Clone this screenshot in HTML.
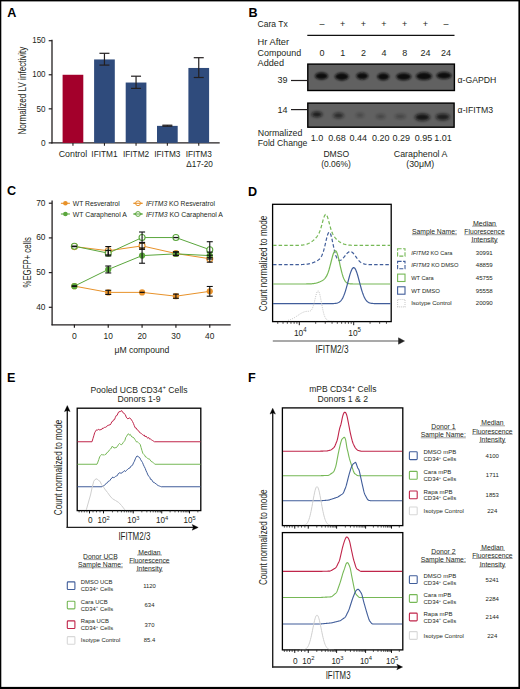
<!DOCTYPE html>
<html><head><meta charset="utf-8"><style>
html,body{margin:0;padding:0;background:#fff;}
svg{display:block;}
text{font-family:"Liberation Sans", sans-serif;}
</style></head><body>
<svg width="520" height="689" viewBox="0 0 520 689">
<rect x="0" y="0" width="520" height="689" fill="#fff"/>
<rect x="0" y="0" width="520" height="1.4" fill="#000" stroke="none" stroke-width="1" />
<rect x="0" y="0" width="1.3" height="689" fill="#000" stroke="none" stroke-width="1" />
<rect x="518.4" y="0" width="1.6" height="689" fill="#000" stroke="none" stroke-width="1" />
<rect x="0" y="686.9" width="520" height="2.1" fill="#000" stroke="none" stroke-width="1" />
<text x="7.3" y="16.8" font-size="12.6" text-anchor="start" fill="#000" font-weight="bold" >A</text>
<text x="248.6" y="16.6" font-size="12.6" text-anchor="start" fill="#000" font-weight="bold" >B</text>
<text x="7.0" y="195.4" font-size="12.6" text-anchor="start" fill="#000" font-weight="bold" >C</text>
<text x="248.0" y="195.6" font-size="12.6" text-anchor="start" fill="#000" font-weight="bold" >D</text>
<text x="7.1" y="382.1" font-size="12.6" text-anchor="start" fill="#000" font-weight="bold" >E</text>
<text x="248.0" y="382.1" font-size="12.6" text-anchor="start" fill="#000" font-weight="bold" >F</text>
<line x1="52" y1="39.8" x2="52" y2="143.5" stroke="#231f20" stroke-width="1.3" />
<line x1="51.5" y1="142.9" x2="219.7" y2="142.9" stroke="#231f20" stroke-width="1.3" />
<line x1="48.7" y1="142.9" x2="52" y2="142.9" stroke="#231f20" stroke-width="1.2" />
<text x="45.6" y="145.6" font-size="9.2" text-anchor="end" fill="#231f20" textLength="4.6" lengthAdjust="spacingAndGlyphs" >0</text>
<line x1="48.7" y1="108.83500000000001" x2="52" y2="108.83500000000001" stroke="#231f20" stroke-width="1.2" />
<text x="45.6" y="111.53500000000001" font-size="9.2" text-anchor="end" fill="#231f20" textLength="9.0" lengthAdjust="spacingAndGlyphs" >50</text>
<line x1="48.7" y1="74.77000000000001" x2="52" y2="74.77000000000001" stroke="#231f20" stroke-width="1.2" />
<text x="45.6" y="77.47000000000001" font-size="9.2" text-anchor="end" fill="#231f20" textLength="13.4" lengthAdjust="spacingAndGlyphs" >100</text>
<line x1="48.7" y1="40.705" x2="52" y2="40.705" stroke="#231f20" stroke-width="1.2" />
<text x="45.6" y="43.405" font-size="9.2" text-anchor="end" fill="#231f20" textLength="13.4" lengthAdjust="spacingAndGlyphs" >150</text>
<rect x="62.6" y="74.77000000000001" width="20.7" height="68.13" fill="#a3002b" stroke="none" stroke-width="1" />
<line x1="72.95" y1="142.9" x2="72.95" y2="145.8" stroke="#231f20" stroke-width="1.1" />
<rect x="94.1" y="59.44075000000001" width="20.7" height="83.45925" fill="#2f4b7c" stroke="none" stroke-width="1" />
<line x1="104.44999999999999" y1="142.9" x2="104.44999999999999" y2="145.8" stroke="#231f20" stroke-width="1.1" />
<line x1="104.44999999999999" y1="53.3" x2="104.44999999999999" y2="65.1" stroke="#231f20" stroke-width="1.2" />
<line x1="99.44999999999999" y1="53.3" x2="109.44999999999999" y2="53.3" stroke="#231f20" stroke-width="1.2" />
<line x1="99.44999999999999" y1="65.1" x2="109.44999999999999" y2="65.1" stroke="#231f20" stroke-width="1.2" />
<rect x="125.7" y="82.53682" width="20.7" height="60.36318" fill="#2f4b7c" stroke="none" stroke-width="1" />
<line x1="136.05" y1="142.9" x2="136.05" y2="145.8" stroke="#231f20" stroke-width="1.1" />
<line x1="136.05" y1="76.2" x2="136.05" y2="88.4" stroke="#231f20" stroke-width="1.2" />
<line x1="131.05" y1="76.2" x2="141.05" y2="76.2" stroke="#231f20" stroke-width="1.2" />
<line x1="131.05" y1="88.4" x2="141.05" y2="88.4" stroke="#231f20" stroke-width="1.2" />
<rect x="157" y="125.8675" width="20.7" height="17.0325" fill="#2f4b7c" stroke="none" stroke-width="1" />
<line x1="167.35" y1="142.9" x2="167.35" y2="145.8" stroke="#231f20" stroke-width="1.1" />
<line x1="167.35" y1="125.2" x2="167.35" y2="126.2" stroke="#231f20" stroke-width="1.2" />
<line x1="162.35" y1="125.2" x2="172.35" y2="125.2" stroke="#231f20" stroke-width="1.2" />
<line x1="162.35" y1="126.2" x2="172.35" y2="126.2" stroke="#231f20" stroke-width="1.2" />
<rect x="188.4" y="67.95700000000001" width="20.7" height="74.943" fill="#2f4b7c" stroke="none" stroke-width="1" />
<line x1="198.75" y1="142.9" x2="198.75" y2="145.8" stroke="#231f20" stroke-width="1.1" />
<line x1="198.75" y1="57.7" x2="198.75" y2="77.5" stroke="#231f20" stroke-width="1.2" />
<line x1="193.75" y1="57.7" x2="203.75" y2="57.7" stroke="#231f20" stroke-width="1.2" />
<line x1="193.75" y1="77.5" x2="203.75" y2="77.5" stroke="#231f20" stroke-width="1.2" />
<text x="72.95" y="156.6" font-size="9" text-anchor="middle" fill="#231f20" textLength="28.5" lengthAdjust="spacingAndGlyphs" >Control</text>
<text x="104.44999999999999" y="156.6" font-size="9" text-anchor="middle" fill="#231f20" textLength="26.2" lengthAdjust="spacingAndGlyphs" >IFITM1</text>
<text x="136.05" y="156.6" font-size="9" text-anchor="middle" fill="#231f20" textLength="26.2" lengthAdjust="spacingAndGlyphs" >IFITM2</text>
<text x="167.35" y="156.6" font-size="9" text-anchor="middle" fill="#231f20" textLength="26.2" lengthAdjust="spacingAndGlyphs" >IFITM3</text>
<text x="198.75" y="156.6" font-size="9" text-anchor="middle" fill="#231f20" textLength="26.2" lengthAdjust="spacingAndGlyphs" >IFITM3</text>
<text x="199.6" y="166.5" font-size="9" text-anchor="middle" fill="#231f20" textLength="26.5" lengthAdjust="spacingAndGlyphs" >Δ17-20</text>
<text transform="translate(26.0,90.6) rotate(-90)" font-size="10.4" text-anchor="middle" fill="#231f20" textLength="88" lengthAdjust="spacingAndGlyphs">Normalized LV infectivity</text>
<text x="257.6" y="26.9" font-size="8.8" text-anchor="start" fill="#231f20" textLength="30.2" lengthAdjust="spacingAndGlyphs" >Cara Tx</text>
<text x="322" y="27.2" font-size="9" text-anchor="middle" fill="#231f20" >–</text>
<text x="342.7" y="27.2" font-size="9" text-anchor="middle" fill="#231f20" >+</text>
<text x="363.4" y="27.2" font-size="9" text-anchor="middle" fill="#231f20" >+</text>
<text x="384" y="27.2" font-size="9" text-anchor="middle" fill="#231f20" >+</text>
<text x="404.7" y="27.2" font-size="9" text-anchor="middle" fill="#231f20" >+</text>
<text x="425.4" y="27.2" font-size="9" text-anchor="middle" fill="#231f20" >+</text>
<text x="446" y="27.2" font-size="9" text-anchor="middle" fill="#231f20" >–</text>
<line x1="307.3" y1="35.3" x2="454.5" y2="35.3" stroke="#111" stroke-width="1.3" />
<text x="257.6" y="45.3" font-size="8.8" text-anchor="start" fill="#231f20" textLength="31.5" lengthAdjust="spacingAndGlyphs" >Hr After</text>
<text x="257.6" y="55.6" font-size="8.8" text-anchor="start" fill="#231f20" textLength="43.6" lengthAdjust="spacingAndGlyphs" >Compound</text>
<text x="257.6" y="65.6" font-size="8.8" text-anchor="start" fill="#231f20" textLength="26.4" lengthAdjust="spacingAndGlyphs" >Added</text>
<text x="322" y="55.7" font-size="9" text-anchor="middle" fill="#231f20" >0</text>
<text x="342.7" y="55.7" font-size="9" text-anchor="middle" fill="#231f20" >1</text>
<text x="363.4" y="55.7" font-size="9" text-anchor="middle" fill="#231f20" >2</text>
<text x="384" y="55.7" font-size="9" text-anchor="middle" fill="#231f20" >4</text>
<text x="404.7" y="55.7" font-size="9" text-anchor="middle" fill="#231f20" >8</text>
<text x="425.4" y="55.7" font-size="9" text-anchor="middle" fill="#231f20" >24</text>
<text x="446" y="55.7" font-size="9" text-anchor="middle" fill="#231f20" >24</text>
<defs><filter id="blur1" x="-50%" y="-50%" width="200%" height="200%"><feGaussianBlur stdDeviation="1.1"/></filter><filter id="blur2" x="-50%" y="-50%" width="200%" height="200%"><feGaussianBlur stdDeviation="1.6"/></filter></defs>
<rect x="307.8" y="64.1" width="146.6" height="26.4" fill="#616161" stroke="#000" stroke-width="1.4" />
<ellipse cx="321.5" cy="76" rx="6.5" ry="3.6" fill="#111" opacity="1" filter="url(#blur1)"/>
<ellipse cx="341.8" cy="76.6" rx="7.0" ry="3.8" fill="#111" opacity="1" filter="url(#blur1)"/>
<ellipse cx="362.3" cy="76" rx="6.0" ry="3.4" fill="#111" opacity="1" filter="url(#blur1)"/>
<ellipse cx="383.3" cy="76.6" rx="6.0" ry="3.6" fill="#111" opacity="1" filter="url(#blur1)"/>
<ellipse cx="403.7" cy="76.6" rx="7.5" ry="3.6" fill="#111" opacity="1" filter="url(#blur1)"/>
<ellipse cx="424" cy="76.2" rx="8.0" ry="3.9" fill="#111" opacity="1" filter="url(#blur1)"/>
<ellipse cx="444" cy="75.5" rx="7.5" ry="3.6" fill="#111" opacity="1" filter="url(#blur1)"/>
<rect x="307.8" y="103.1" width="146.3" height="24.1" fill="#616161" stroke="#000" stroke-width="1.4" />
<ellipse cx="316.9" cy="114.4" rx="5.5" ry="2.75" fill="#111" opacity="0.85" filter="url(#blur2)"/>
<ellipse cx="338.5" cy="115.6" rx="5.5" ry="2.75" fill="#111" opacity="0.65" filter="url(#blur2)"/>
<ellipse cx="360" cy="115.2" rx="4.0" ry="2.25" fill="#111" opacity="0.3" filter="url(#blur2)"/>
<ellipse cx="380.7" cy="116.4" rx="4.5" ry="2.25" fill="#111" opacity="0.35" filter="url(#blur2)"/>
<ellipse cx="400.3" cy="116.4" rx="5.5" ry="2.25" fill="#111" opacity="0.35" filter="url(#blur2)"/>
<ellipse cx="422.4" cy="117.2" rx="7.5" ry="3.5" fill="#111" opacity="0.9" filter="url(#blur2)"/>
<ellipse cx="442.8" cy="116.9" rx="7.0" ry="3.25" fill="#111" opacity="0.8" filter="url(#blur2)"/>
<line x1="291" y1="80.5" x2="307.5" y2="80.5" stroke="#231f20" stroke-width="1.2" />
<line x1="291" y1="109.6" x2="307.5" y2="109.6" stroke="#231f20" stroke-width="1.2" />
<text x="287.5" y="83.2" font-size="9" text-anchor="end" fill="#231f20" >39</text>
<text x="287.5" y="112.5" font-size="9" text-anchor="end" fill="#231f20" >14</text>
<text x="457.6" y="83.3" font-size="8.8" text-anchor="start" fill="#231f20" textLength="38.8" lengthAdjust="spacingAndGlyphs" >α-GAPDH</text>
<text x="457.6" y="112.7" font-size="8.8" text-anchor="start" fill="#231f20" textLength="35.6" lengthAdjust="spacingAndGlyphs" >α-IFITM3</text>
<text x="257.8" y="135.8" font-size="8.8" text-anchor="start" fill="#231f20" textLength="44.6" lengthAdjust="spacingAndGlyphs" >Normalized</text>
<text x="257.8" y="145.8" font-size="8.8" text-anchor="start" fill="#231f20" textLength="49.6" lengthAdjust="spacingAndGlyphs" >Fold Change</text>
<text x="316.9" y="140.8" font-size="9" text-anchor="middle" fill="#231f20" >1.0</text>
<text x="337" y="140.8" font-size="9" text-anchor="middle" fill="#231f20" >0.68</text>
<text x="358.2" y="140.8" font-size="9" text-anchor="middle" fill="#231f20" >0.44</text>
<text x="380.7" y="140.8" font-size="9" text-anchor="middle" fill="#231f20" >0.20</text>
<text x="401.2" y="140.8" font-size="9" text-anchor="middle" fill="#231f20" >0.29</text>
<text x="423.4" y="140.8" font-size="9" text-anchor="middle" fill="#231f20" >0.95</text>
<text x="443" y="140.8" font-size="9" text-anchor="middle" fill="#231f20" >1.01</text>
<text x="336.3" y="156.6" font-size="8.8" text-anchor="middle" fill="#231f20" textLength="25.8" lengthAdjust="spacingAndGlyphs" >DMSO</text>
<text x="336" y="166.5" font-size="8.8" text-anchor="middle" fill="#231f20" textLength="29.6" lengthAdjust="spacingAndGlyphs" >(0.06%)</text>
<text x="420.6" y="156.6" font-size="8.8" text-anchor="middle" fill="#231f20" textLength="53.6" lengthAdjust="spacingAndGlyphs" >Caraphenol A</text>
<text x="420.3" y="166.5" font-size="8.8" text-anchor="middle" fill="#231f20" textLength="28" lengthAdjust="spacingAndGlyphs" >(30μM)</text>
<line x1="52.1" y1="200.5" x2="52.1" y2="325.2" stroke="#231f20" stroke-width="1.3" />
<line x1="51.5" y1="324.9" x2="230.7" y2="324.9" stroke="#231f20" stroke-width="1.3" />
<line x1="48.8" y1="307.3" x2="52.1" y2="307.3" stroke="#231f20" stroke-width="1.2" />
<text x="45.5" y="309.8" font-size="9.8" text-anchor="end" fill="#231f20" textLength="9.3" lengthAdjust="spacingAndGlyphs" >40</text>
<line x1="48.8" y1="272.6" x2="52.1" y2="272.6" stroke="#231f20" stroke-width="1.2" />
<text x="45.5" y="275.1" font-size="9.8" text-anchor="end" fill="#231f20" textLength="9.3" lengthAdjust="spacingAndGlyphs" >50</text>
<line x1="48.8" y1="237.9" x2="52.1" y2="237.9" stroke="#231f20" stroke-width="1.2" />
<text x="45.5" y="240.4" font-size="9.8" text-anchor="end" fill="#231f20" textLength="9.3" lengthAdjust="spacingAndGlyphs" >60</text>
<line x1="48.8" y1="203.2" x2="52.1" y2="203.2" stroke="#231f20" stroke-width="1.2" />
<text x="45.5" y="205.7" font-size="9.8" text-anchor="end" fill="#231f20" textLength="9.3" lengthAdjust="spacingAndGlyphs" >70</text>
<line x1="74.4" y1="324.6" x2="74.4" y2="327.8" stroke="#231f20" stroke-width="1.2" />
<text x="74.4" y="338.7" font-size="9.8" text-anchor="middle" fill="#231f20" textLength="4.8" lengthAdjust="spacingAndGlyphs" >0</text>
<line x1="108.24000000000001" y1="324.6" x2="108.24000000000001" y2="327.8" stroke="#231f20" stroke-width="1.2" />
<text x="108.24000000000001" y="338.7" font-size="9.8" text-anchor="middle" fill="#231f20" textLength="9.3" lengthAdjust="spacingAndGlyphs" >10</text>
<line x1="142.07999999999998" y1="324.6" x2="142.07999999999998" y2="327.8" stroke="#231f20" stroke-width="1.2" />
<text x="142.07999999999998" y="338.7" font-size="9.8" text-anchor="middle" fill="#231f20" textLength="9.3" lengthAdjust="spacingAndGlyphs" >20</text>
<line x1="175.92000000000002" y1="324.6" x2="175.92000000000002" y2="327.8" stroke="#231f20" stroke-width="1.2" />
<text x="175.92000000000002" y="338.7" font-size="9.8" text-anchor="middle" fill="#231f20" textLength="9.3" lengthAdjust="spacingAndGlyphs" >30</text>
<line x1="209.76" y1="324.6" x2="209.76" y2="327.8" stroke="#231f20" stroke-width="1.2" />
<text x="209.76" y="338.7" font-size="9.8" text-anchor="middle" fill="#231f20" textLength="9.3" lengthAdjust="spacingAndGlyphs" >40</text>
<text x="141.9" y="353.2" font-size="9.8" text-anchor="middle" fill="#231f20" textLength="55" lengthAdjust="spacingAndGlyphs" >μM compound</text>
<text transform="translate(30.8,262.3) rotate(-90)" font-size="10.2" text-anchor="middle" fill="#231f20" textLength="50.5" lengthAdjust="spacingAndGlyphs">%EGFP+ cells</text>
<path d="M74.40,286.13 L108.24,292.38 L142.08,292.38 L175.92,296.20 L209.76,291.34" stroke="#e8922a" stroke-width="1.0" fill="none" stroke-linejoin="round" />
<path d="M74.40,246.58 L108.24,250.74 L142.08,245.88 L175.92,253.52 L209.76,258.72" stroke="#e8922a" stroke-width="1.0" fill="none" stroke-linejoin="round" />
<path d="M74.40,286.13 L108.24,269.48 L142.08,255.60 L175.92,253.86 L209.76,255.60" stroke="#5aa63c" stroke-width="1.0" fill="none" stroke-linejoin="round" />
<path d="M74.40,246.23 L108.24,253.17 L142.08,237.55 L175.92,237.55 L209.76,249.70" stroke="#5aa63c" stroke-width="1.0" fill="none" stroke-linejoin="round" />
<circle cx="74.4" cy="286.133" r="3.1" fill="#e8922a"/>
<circle cx="108.24000000000001" cy="292.379" r="3.1" fill="#e8922a"/>
<circle cx="142.07999999999998" cy="292.379" r="3.1" fill="#e8922a"/>
<circle cx="175.92000000000002" cy="296.196" r="3.1" fill="#e8922a"/>
<circle cx="209.76" cy="291.338" r="3.1" fill="#e8922a"/>
<circle cx="74.4" cy="246.57500000000002" r="3.0" fill="#fff" fill-opacity="0.85" stroke="#e8922a" stroke-width="1.1"/>
<circle cx="108.24000000000001" cy="250.73900000000003" r="3.0" fill="#fff" fill-opacity="0.85" stroke="#e8922a" stroke-width="1.1"/>
<circle cx="142.07999999999998" cy="245.881" r="3.0" fill="#fff" fill-opacity="0.85" stroke="#e8922a" stroke-width="1.1"/>
<circle cx="175.92000000000002" cy="253.51500000000001" r="3.0" fill="#fff" fill-opacity="0.85" stroke="#e8922a" stroke-width="1.1"/>
<circle cx="209.76" cy="258.72" r="3.0" fill="#fff" fill-opacity="0.85" stroke="#e8922a" stroke-width="1.1"/>
<circle cx="74.4" cy="286.133" r="3.1" fill="#5aa63c"/>
<circle cx="108.24000000000001" cy="269.47700000000003" r="3.1" fill="#5aa63c"/>
<circle cx="142.07999999999998" cy="255.597" r="3.1" fill="#5aa63c"/>
<circle cx="175.92000000000002" cy="253.86200000000002" r="3.1" fill="#5aa63c"/>
<circle cx="209.76" cy="255.597" r="3.1" fill="#5aa63c"/>
<circle cx="74.4" cy="246.228" r="3.0" fill="#fff" fill-opacity="0.85" stroke="#5aa63c" stroke-width="1.1"/>
<circle cx="108.24000000000001" cy="253.168" r="3.0" fill="#fff" fill-opacity="0.85" stroke="#5aa63c" stroke-width="1.1"/>
<circle cx="142.07999999999998" cy="237.553" r="3.0" fill="#fff" fill-opacity="0.85" stroke="#5aa63c" stroke-width="1.1"/>
<circle cx="175.92000000000002" cy="237.553" r="3.0" fill="#fff" fill-opacity="0.85" stroke="#5aa63c" stroke-width="1.1"/>
<circle cx="209.76" cy="249.698" r="3.0" fill="#fff" fill-opacity="0.85" stroke="#5aa63c" stroke-width="1.1"/>
<line x1="71.80000000000001" y1="286.133" x2="77.0" y2="286.133" stroke="#111" stroke-width="1.3" />
<line x1="108.24000000000001" y1="290.297" x2="108.24000000000001" y2="294.461" stroke="#111" stroke-width="1.1" />
<line x1="105.24000000000001" y1="290.297" x2="111.24000000000001" y2="290.297" stroke="#111" stroke-width="1.1" />
<line x1="105.24000000000001" y1="294.461" x2="111.24000000000001" y2="294.461" stroke="#111" stroke-width="1.1" />
<line x1="139.48" y1="292.379" x2="144.67999999999998" y2="292.379" stroke="#111" stroke-width="1.3" />
<line x1="175.92000000000002" y1="294.114" x2="175.92000000000002" y2="298.278" stroke="#111" stroke-width="1.1" />
<line x1="172.92000000000002" y1="294.114" x2="178.92000000000002" y2="294.114" stroke="#111" stroke-width="1.1" />
<line x1="172.92000000000002" y1="298.278" x2="178.92000000000002" y2="298.278" stroke="#111" stroke-width="1.1" />
<line x1="209.76" y1="286.48" x2="209.76" y2="296.196" stroke="#111" stroke-width="1.1" />
<line x1="206.76" y1="286.48" x2="212.76" y2="286.48" stroke="#111" stroke-width="1.1" />
<line x1="206.76" y1="296.196" x2="212.76" y2="296.196" stroke="#111" stroke-width="1.1" />
<line x1="71.80000000000001" y1="246.57500000000002" x2="77.0" y2="246.57500000000002" stroke="#111" stroke-width="1.3" />
<line x1="108.24000000000001" y1="246.57500000000002" x2="108.24000000000001" y2="254.90300000000002" stroke="#111" stroke-width="1.1" />
<line x1="105.24000000000001" y1="246.57500000000002" x2="111.24000000000001" y2="246.57500000000002" stroke="#111" stroke-width="1.1" />
<line x1="105.24000000000001" y1="254.90300000000002" x2="111.24000000000001" y2="254.90300000000002" stroke="#111" stroke-width="1.1" />
<line x1="142.07999999999998" y1="242.411" x2="142.07999999999998" y2="249.351" stroke="#111" stroke-width="1.1" />
<line x1="139.07999999999998" y1="242.411" x2="145.07999999999998" y2="242.411" stroke="#111" stroke-width="1.1" />
<line x1="139.07999999999998" y1="249.351" x2="145.07999999999998" y2="249.351" stroke="#111" stroke-width="1.1" />
<line x1="175.92000000000002" y1="251.78" x2="175.92000000000002" y2="255.25" stroke="#111" stroke-width="1.1" />
<line x1="172.92000000000002" y1="251.78" x2="178.92000000000002" y2="251.78" stroke="#111" stroke-width="1.1" />
<line x1="172.92000000000002" y1="255.25" x2="178.92000000000002" y2="255.25" stroke="#111" stroke-width="1.1" />
<line x1="209.76" y1="255.25" x2="209.76" y2="262.19" stroke="#111" stroke-width="1.1" />
<line x1="206.76" y1="255.25" x2="212.76" y2="255.25" stroke="#111" stroke-width="1.1" />
<line x1="206.76" y1="262.19" x2="212.76" y2="262.19" stroke="#111" stroke-width="1.1" />
<line x1="71.80000000000001" y1="286.133" x2="77.0" y2="286.133" stroke="#111" stroke-width="1.3" />
<line x1="108.24000000000001" y1="266.007" x2="108.24000000000001" y2="272.947" stroke="#111" stroke-width="1.1" />
<line x1="105.24000000000001" y1="266.007" x2="111.24000000000001" y2="266.007" stroke="#111" stroke-width="1.1" />
<line x1="105.24000000000001" y1="272.947" x2="111.24000000000001" y2="272.947" stroke="#111" stroke-width="1.1" />
<line x1="142.07999999999998" y1="247.963" x2="142.07999999999998" y2="263.231" stroke="#111" stroke-width="1.1" />
<line x1="139.07999999999998" y1="247.963" x2="145.07999999999998" y2="247.963" stroke="#111" stroke-width="1.1" />
<line x1="139.07999999999998" y1="263.231" x2="145.07999999999998" y2="263.231" stroke="#111" stroke-width="1.1" />
<line x1="175.92000000000002" y1="252.127" x2="175.92000000000002" y2="255.597" stroke="#111" stroke-width="1.1" />
<line x1="172.92000000000002" y1="252.127" x2="178.92000000000002" y2="252.127" stroke="#111" stroke-width="1.1" />
<line x1="172.92000000000002" y1="255.597" x2="178.92000000000002" y2="255.597" stroke="#111" stroke-width="1.1" />
<line x1="209.76" y1="252.127" x2="209.76" y2="259.067" stroke="#111" stroke-width="1.1" />
<line x1="206.76" y1="252.127" x2="212.76" y2="252.127" stroke="#111" stroke-width="1.1" />
<line x1="206.76" y1="259.067" x2="212.76" y2="259.067" stroke="#111" stroke-width="1.1" />
<line x1="71.80000000000001" y1="246.228" x2="77.0" y2="246.228" stroke="#111" stroke-width="1.3" />
<line x1="108.24000000000001" y1="250.392" x2="108.24000000000001" y2="255.944" stroke="#111" stroke-width="1.1" />
<line x1="105.24000000000001" y1="250.392" x2="111.24000000000001" y2="250.392" stroke="#111" stroke-width="1.1" />
<line x1="105.24000000000001" y1="255.944" x2="111.24000000000001" y2="255.944" stroke="#111" stroke-width="1.1" />
<line x1="142.07999999999998" y1="232.00099999999998" x2="142.07999999999998" y2="243.10500000000002" stroke="#111" stroke-width="1.1" />
<line x1="139.07999999999998" y1="232.00099999999998" x2="145.07999999999998" y2="232.00099999999998" stroke="#111" stroke-width="1.1" />
<line x1="139.07999999999998" y1="243.10500000000002" x2="145.07999999999998" y2="243.10500000000002" stroke="#111" stroke-width="1.1" />
<line x1="173.32000000000002" y1="237.553" x2="178.52" y2="237.553" stroke="#111" stroke-width="1.3" />
<line x1="209.76" y1="241.717" x2="209.76" y2="257.679" stroke="#111" stroke-width="1.1" />
<line x1="206.76" y1="241.717" x2="212.76" y2="241.717" stroke="#111" stroke-width="1.1" />
<line x1="206.76" y1="257.679" x2="212.76" y2="257.679" stroke="#111" stroke-width="1.1" />
<line x1="60.900000000000006" y1="203.3" x2="69.9" y2="203.3" stroke="#e8922a" stroke-width="1.1" />
<circle cx="65.4" cy="203.3" r="2.3" fill="#e8922a"/>
<text x="72.8" y="206.2" font-size="8" text-anchor="start" fill="#231f20" textLength="47" lengthAdjust="spacingAndGlyphs" >WT Resveratrol</text>
<line x1="60.900000000000006" y1="214" x2="69.9" y2="214" stroke="#5aa63c" stroke-width="1.1" />
<circle cx="65.4" cy="214" r="2.3" fill="#5aa63c"/>
<text x="72.8" y="216.9" font-size="8" text-anchor="start" fill="#231f20" textLength="54" lengthAdjust="spacingAndGlyphs" >WT Caraphenol A</text>
<line x1="133.5" y1="203.3" x2="142.5" y2="203.3" stroke="#e8922a" stroke-width="1.1" />
<circle cx="138" cy="203.3" r="2.4" fill="white" stroke="#e8922a" stroke-width="1"/>
<line x1="133.5" y1="203.3" x2="142.5" y2="203.3" stroke="#e8922a" stroke-width="1.0" />
<text x="145.9" y="206.2" font-size="8" fill="#231f20" textLength="69" lengthAdjust="spacingAndGlyphs"><tspan font-style="italic">IFITM3</tspan> KO Resveratrol</text>
<line x1="133.5" y1="214" x2="142.5" y2="214" stroke="#5aa63c" stroke-width="1.1" />
<circle cx="138" cy="214" r="2.4" fill="white" stroke="#5aa63c" stroke-width="1"/>
<line x1="133.5" y1="214" x2="142.5" y2="214" stroke="#5aa63c" stroke-width="1.0" />
<text x="145.9" y="216.9" font-size="8" fill="#231f20" textLength="77" lengthAdjust="spacingAndGlyphs"><tspan font-style="italic">IFITM3</tspan> KO Caraphenol A</text>
<rect x="272.6" y="204.3" width="118.6" height="117.3" fill="none" stroke="#000" stroke-width="1.3" />
<clipPath id="clipD"><rect x="273" y="204.8" width="117.6" height="116.2"/></clipPath>
<g clip-path="url(#clipD)">
<path d="M273.00,245.40 L273.50,245.40 L274.00,245.40 L274.50,245.40 L275.00,245.40 L275.50,245.40 L276.00,245.40 L276.50,245.40 L277.00,245.40 L277.50,245.40 L278.00,245.40 L278.50,245.40 L279.00,245.40 L279.50,245.40 L280.00,245.40 L280.50,245.40 L281.00,245.40 L281.50,245.40 L282.00,245.40 L282.50,245.40 L283.00,245.40 L283.50,245.40 L284.00,245.40 L284.50,245.40 L285.00,245.40 L285.50,245.40 L286.00,245.40 L286.50,245.40 L287.00,245.40 L287.50,245.40 L288.00,245.40 L288.50,245.40 L289.00,245.40 L289.50,245.40 L290.00,245.40 L290.50,245.40 L291.00,245.40 L291.50,245.40 L292.00,245.39 L292.50,245.39 L293.00,245.39 L293.50,245.39 L294.00,245.39 L294.50,245.38 L295.00,245.38 L295.50,245.37 L296.00,245.37 L296.50,245.36 L297.00,245.35 L297.50,245.34 L298.00,245.33 L298.50,245.31 L299.00,245.29 L299.50,245.27 L300.00,245.24 L300.50,245.21 L301.00,245.18 L301.50,245.14 L302.00,245.09 L302.50,245.04 L303.00,244.98 L303.50,244.91 L304.00,244.83 L304.50,244.74 L305.00,244.64 L305.50,244.52 L306.00,244.39 L306.50,244.25 L307.00,244.09 L307.50,243.91 L308.00,243.72 L308.50,243.51 L309.00,243.27 L309.50,243.02 L310.00,242.74 L310.50,242.45 L311.00,242.13 L311.50,241.79 L312.00,241.43 L312.50,241.05 L313.00,240.65 L313.50,240.22 L314.00,239.78 L314.50,239.31 L315.00,238.81 L315.50,238.30 L316.00,237.75 L316.50,237.16 L317.00,236.52 L317.50,235.82 L318.00,235.04 L318.50,234.17 L319.00,233.17 L319.50,232.04 L320.00,230.76 L320.50,229.31 L321.00,227.71 L321.50,225.98 L322.00,224.14 L322.50,222.26 L323.00,220.40 L323.50,218.65 L324.00,217.10 L324.50,215.84 L325.00,214.95 L325.50,214.47 L326.00,214.46 L326.50,214.90 L327.00,215.77 L327.50,217.02 L328.00,218.57 L328.50,220.34 L329.00,222.23 L329.50,224.15 L330.00,226.05 L330.50,227.84 L331.00,229.50 L331.50,231.01 L332.00,232.35 L332.50,233.53 L333.00,234.56 L333.50,235.47 L334.00,236.27 L334.50,236.99 L335.00,237.63 L335.50,238.22 L336.00,238.77 L336.50,239.28 L337.00,239.76 L337.50,240.21 L338.00,240.64 L338.50,241.05 L339.00,241.43 L339.50,241.79 L340.00,242.13 L340.50,242.45 L341.00,242.74 L341.50,243.02 L342.00,243.27 L342.50,243.51 L343.00,243.72 L343.50,243.91 L344.00,244.09 L344.50,244.25 L345.00,244.39 L345.50,244.52 L346.00,244.64 L346.50,244.74 L347.00,244.83 L347.50,244.91 L348.00,244.98 L348.50,245.04 L349.00,245.09 L349.50,245.14 L350.00,245.18 L350.50,245.21 L351.00,245.24 L351.50,245.27 L352.00,245.29 L352.50,245.31 L353.00,245.33 L353.50,245.34 L354.00,245.35 L354.50,245.36 L355.00,245.37 L355.50,245.37 L356.00,245.38 L356.50,245.38 L357.00,245.39 L357.50,245.39 L358.00,245.39 L358.50,245.39 L359.00,245.39 L359.50,245.40 L360.00,245.40 L360.50,245.40 L361.00,245.40 L361.50,245.40 L362.00,245.40 L362.50,245.40 L363.00,245.40 L363.50,245.40 L364.00,245.40 L364.50,245.40 L365.00,245.40 L365.50,245.40 L366.00,245.40 L366.50,245.40 L367.00,245.40 L367.50,245.40 L368.00,245.40 L368.50,245.40 L369.00,245.40 L369.50,245.40 L370.00,245.40 L370.50,245.40 L371.00,245.40 L371.50,245.40 L372.00,245.40 L372.50,245.40 L373.00,245.40 L373.50,245.40 L374.00,245.40 L374.50,245.40 L375.00,245.40 L375.50,245.40 L376.00,245.40 L376.50,245.40 L377.00,245.40 L377.50,245.40 L378.00,245.40 L378.50,245.40 L379.00,245.40 L379.50,245.40 L380.00,245.40 L380.50,245.40 L381.00,245.40 L381.50,245.40 L382.00,245.40 L382.50,245.40 L383.00,245.40 L383.50,245.40 L384.00,245.40 L384.50,245.40 L385.00,245.40 L385.50,245.40 L386.00,245.40 L386.50,245.40 L387.00,245.40 L387.50,245.40 L388.00,245.40 L388.50,245.40 L389.00,245.40 L389.50,245.40 L390.00,245.40 L390.50,245.40 L391.00,245.40" stroke="#76b856" stroke-width="1.2" fill="none" stroke-linejoin="round" stroke-dasharray="3.5,2.1"/>
<path d="M273.00,264.60 L273.50,264.60 L274.00,264.60 L274.50,264.60 L275.00,264.60 L275.50,264.60 L276.00,264.60 L276.50,264.60 L277.00,264.60 L277.50,264.60 L278.00,264.60 L278.50,264.60 L279.00,264.60 L279.50,264.60 L280.00,264.60 L280.50,264.60 L281.00,264.60 L281.50,264.60 L282.00,264.60 L282.50,264.60 L283.00,264.60 L283.50,264.60 L284.00,264.60 L284.50,264.60 L285.00,264.60 L285.50,264.60 L286.00,264.60 L286.50,264.60 L287.00,264.60 L287.50,264.60 L288.00,264.60 L288.50,264.60 L289.00,264.60 L289.50,264.60 L290.00,264.60 L290.50,264.60 L291.00,264.60 L291.50,264.60 L292.00,264.60 L292.50,264.60 L293.00,264.60 L293.50,264.60 L294.00,264.60 L294.50,264.60 L295.00,264.60 L295.50,264.60 L296.00,264.59 L296.50,264.59 L297.00,264.59 L297.50,264.59 L298.00,264.58 L298.50,264.58 L299.00,264.58 L299.50,264.57 L300.00,264.56 L300.50,264.56 L301.00,264.55 L301.50,264.54 L302.00,264.52 L302.50,264.51 L303.00,264.49 L303.50,264.47 L304.00,264.44 L304.50,264.41 L305.00,264.38 L305.50,264.34 L306.00,264.29 L306.50,264.24 L307.00,264.18 L307.50,264.12 L308.00,264.04 L308.50,263.96 L309.00,263.87 L309.50,263.77 L310.00,263.65 L310.50,263.53 L311.00,263.39 L311.50,263.25 L312.00,263.09 L312.50,262.91 L313.00,262.73 L313.50,262.53 L314.00,262.32 L314.50,262.10 L315.00,261.87 L315.50,261.63 L316.00,261.37 L316.50,261.10 L317.00,260.81 L317.50,260.51 L318.00,260.18 L318.50,259.82 L319.00,259.43 L319.50,258.98 L320.00,258.46 L320.50,257.85 L321.00,257.13 L321.50,256.28 L322.00,255.28 L322.50,254.10 L323.00,252.72 L323.50,251.15 L324.00,249.37 L324.50,247.43 L325.00,245.33 L325.50,243.15 L326.00,240.95 L326.50,238.82 L327.00,236.83 L327.50,235.10 L328.00,233.70 L328.50,232.73 L329.00,232.23 L329.50,232.24 L330.00,232.76 L330.50,233.79 L331.00,235.25 L331.50,237.09 L332.00,239.22 L332.50,241.54 L333.00,243.95 L333.50,246.35 L334.00,248.67 L334.50,250.84 L335.00,252.82 L335.50,254.56 L336.00,256.05 L336.50,257.30 L337.00,258.31 L337.50,259.09 L338.00,259.66 L338.50,260.06 L339.00,260.29 L339.50,260.38 L340.00,260.35 L340.50,260.21 L341.00,259.97 L341.50,259.66 L342.00,259.26 L342.50,258.80 L343.00,258.29 L343.50,257.73 L344.00,257.13 L344.50,256.51 L345.00,255.87 L345.50,255.24 L346.00,254.61 L346.50,254.01 L347.00,253.45 L347.50,252.94 L348.00,252.49 L348.50,252.12 L349.00,251.83 L349.50,251.64 L350.00,251.54 L350.50,251.54 L351.00,251.65 L351.50,251.85 L352.00,252.15 L352.50,252.54 L353.00,253.00 L353.50,253.54 L354.00,254.13 L354.50,254.77 L355.00,255.45 L355.50,256.15 L356.00,256.85 L356.50,257.55 L357.00,258.24 L357.50,258.91 L358.00,259.55 L358.50,260.15 L359.00,260.71 L359.50,261.23 L360.00,261.70 L360.50,262.12 L361.00,262.50 L361.50,262.84 L362.00,263.13 L362.50,263.39 L363.00,263.61 L363.50,263.79 L364.00,263.95 L364.50,264.08 L365.00,264.19 L365.50,264.27 L366.00,264.34 L366.50,264.40 L367.00,264.45 L367.50,264.48 L368.00,264.51 L368.50,264.53 L369.00,264.55 L369.50,264.56 L370.00,264.57 L370.50,264.58 L371.00,264.59 L371.50,264.59 L372.00,264.59 L372.50,264.59 L373.00,264.60 L373.50,264.60 L374.00,264.60 L374.50,264.60 L375.00,264.60 L375.50,264.60 L376.00,264.60 L376.50,264.60 L377.00,264.60 L377.50,264.60 L378.00,264.60 L378.50,264.60 L379.00,264.60 L379.50,264.60 L380.00,264.60 L380.50,264.60 L381.00,264.60 L381.50,264.60 L382.00,264.60 L382.50,264.60 L383.00,264.60 L383.50,264.60 L384.00,264.60 L384.50,264.60 L385.00,264.60 L385.50,264.60 L386.00,264.60 L386.50,264.60 L387.00,264.60 L387.50,264.60 L388.00,264.60 L388.50,264.60 L389.00,264.60 L389.50,264.60 L390.00,264.60 L390.50,264.60 L391.00,264.60" stroke="#405d9a" stroke-width="1.2" fill="none" stroke-linejoin="round" stroke-dasharray="3.5,2.1"/>
<path d="M273.00,284.00 L273.50,284.00 L274.00,284.00 L274.50,284.00 L275.00,284.00 L275.50,284.00 L276.00,284.00 L276.50,284.00 L277.00,284.00 L277.50,284.00 L278.00,284.00 L278.50,284.00 L279.00,284.00 L279.50,284.00 L280.00,284.00 L280.50,284.00 L281.00,284.00 L281.50,284.00 L282.00,284.00 L282.50,284.00 L283.00,284.00 L283.50,284.00 L284.00,284.00 L284.50,284.00 L285.00,284.00 L285.50,284.00 L286.00,284.00 L286.50,284.00 L287.00,284.00 L287.50,284.00 L288.00,284.00 L288.50,284.00 L289.00,284.00 L289.50,284.00 L290.00,284.00 L290.50,284.00 L291.00,284.00 L291.50,284.00 L292.00,284.00 L292.50,284.00 L293.00,284.00 L293.50,284.00 L294.00,284.00 L294.50,284.00 L295.00,284.00 L295.50,284.00 L296.00,284.00 L296.50,284.00 L297.00,284.00 L297.50,284.00 L298.00,284.00 L298.50,284.00 L299.00,284.00 L299.50,284.00 L300.00,284.00 L300.50,284.00 L301.00,284.00 L301.50,284.00 L302.00,284.00 L302.50,284.00 L303.00,283.99 L303.50,283.99 L304.00,283.99 L304.50,283.99 L305.00,283.99 L305.50,283.98 L306.00,283.98 L306.50,283.97 L307.00,283.96 L307.50,283.96 L308.00,283.94 L308.50,283.93 L309.00,283.92 L309.50,283.90 L310.00,283.87 L310.50,283.85 L311.00,283.82 L311.50,283.78 L312.00,283.74 L312.50,283.69 L313.00,283.63 L313.50,283.57 L314.00,283.50 L314.50,283.41 L315.00,283.32 L315.50,283.22 L316.00,283.11 L316.50,282.98 L317.00,282.85 L317.50,282.70 L318.00,282.54 L318.50,282.37 L319.00,282.18 L319.50,281.98 L320.00,281.77 L320.50,281.54 L321.00,281.30 L321.50,281.04 L322.00,280.77 L322.50,280.46 L323.00,280.13 L323.50,279.76 L324.00,279.34 L324.50,278.86 L325.00,278.32 L325.50,277.69 L326.00,276.96 L326.50,276.11 L327.00,275.14 L327.50,274.02 L328.00,272.76 L328.50,271.34 L329.00,269.76 L329.50,268.04 L330.00,266.20 L330.50,264.27 L331.00,262.27 L331.50,260.27 L332.00,258.31 L332.50,256.45 L333.00,254.77 L333.50,253.31 L334.00,252.13 L334.50,251.29 L335.00,250.83 L335.50,250.76 L336.00,251.10 L336.50,251.83 L337.00,252.95 L337.50,254.40 L338.00,256.14 L338.50,258.11 L339.00,260.25 L339.50,262.49 L340.00,264.77 L340.50,267.03 L341.00,269.21 L341.50,271.28 L342.00,273.20 L342.50,274.94 L343.00,276.50 L343.50,277.87 L344.00,279.05 L344.50,280.05 L345.00,280.88 L345.50,281.57 L346.00,282.13 L346.50,282.57 L347.00,282.92 L347.50,283.20 L348.00,283.41 L348.50,283.56 L349.00,283.68 L349.50,283.77 L350.00,283.83 L350.50,283.88 L351.00,283.91 L351.50,283.94 L352.00,283.96 L352.50,283.97 L353.00,283.98 L353.50,283.98 L354.00,283.99 L354.50,283.99 L355.00,283.99 L355.50,284.00 L356.00,284.00 L356.50,284.00 L357.00,284.00 L357.50,284.00 L358.00,284.00 L358.50,284.00 L359.00,284.00 L359.50,284.00 L360.00,284.00 L360.50,284.00 L361.00,284.00 L361.50,284.00 L362.00,284.00 L362.50,284.00 L363.00,284.00 L363.50,284.00 L364.00,284.00 L364.50,284.00 L365.00,284.00 L365.50,284.00 L366.00,284.00 L366.50,284.00 L367.00,284.00 L367.50,284.00 L368.00,284.00 L368.50,284.00 L369.00,284.00 L369.50,284.00 L370.00,284.00 L370.50,284.00 L371.00,284.00 L371.50,284.00 L372.00,284.00 L372.50,284.00 L373.00,284.00 L373.50,284.00 L374.00,284.00 L374.50,284.00 L375.00,284.00 L375.50,284.00 L376.00,284.00 L376.50,284.00 L377.00,284.00 L377.50,284.00 L378.00,284.00 L378.50,284.00 L379.00,284.00 L379.50,284.00 L380.00,284.00 L380.50,284.00 L381.00,284.00 L381.50,284.00 L382.00,284.00 L382.50,284.00 L383.00,284.00 L383.50,284.00 L384.00,284.00 L384.50,284.00 L385.00,284.00 L385.50,284.00 L386.00,284.00 L386.50,284.00 L387.00,284.00 L387.50,284.00 L388.00,284.00 L388.50,284.00 L389.00,284.00 L389.50,284.00 L390.00,284.00 L390.50,284.00 L391.00,284.00" stroke="#76b856" stroke-width="1.2" fill="none" stroke-linejoin="round" />
<path d="M273.00,303.60 L273.50,303.60 L274.00,303.60 L274.50,303.60 L275.00,303.60 L275.50,303.60 L276.00,303.60 L276.50,303.60 L277.00,303.60 L277.50,303.60 L278.00,303.60 L278.50,303.60 L279.00,303.60 L279.50,303.60 L280.00,303.60 L280.50,303.60 L281.00,303.60 L281.50,303.60 L282.00,303.60 L282.50,303.60 L283.00,303.60 L283.50,303.60 L284.00,303.60 L284.50,303.60 L285.00,303.60 L285.50,303.60 L286.00,303.60 L286.50,303.60 L287.00,303.60 L287.50,303.60 L288.00,303.60 L288.50,303.60 L289.00,303.60 L289.50,303.60 L290.00,303.60 L290.50,303.60 L291.00,303.60 L291.50,303.60 L292.00,303.60 L292.50,303.60 L293.00,303.60 L293.50,303.60 L294.00,303.60 L294.50,303.60 L295.00,303.60 L295.50,303.60 L296.00,303.60 L296.50,303.60 L297.00,303.60 L297.50,303.60 L298.00,303.60 L298.50,303.60 L299.00,303.60 L299.50,303.60 L300.00,303.60 L300.50,303.60 L301.00,303.60 L301.50,303.60 L302.00,303.60 L302.50,303.60 L303.00,303.60 L303.50,303.60 L304.00,303.60 L304.50,303.60 L305.00,303.60 L305.50,303.60 L306.00,303.60 L306.50,303.60 L307.00,303.60 L307.50,303.60 L308.00,303.60 L308.50,303.60 L309.00,303.60 L309.50,303.60 L310.00,303.60 L310.50,303.60 L311.00,303.60 L311.50,303.60 L312.00,303.60 L312.50,303.60 L313.00,303.60 L313.50,303.60 L314.00,303.60 L314.50,303.60 L315.00,303.60 L315.50,303.60 L316.00,303.60 L316.50,303.60 L317.00,303.60 L317.50,303.60 L318.00,303.60 L318.50,303.60 L319.00,303.60 L319.50,303.60 L320.00,303.60 L320.50,303.60 L321.00,303.60 L321.50,303.60 L322.00,303.60 L322.50,303.60 L323.00,303.60 L323.50,303.60 L324.00,303.60 L324.50,303.60 L325.00,303.60 L325.50,303.60 L326.00,303.60 L326.50,303.60 L327.00,303.60 L327.50,303.60 L328.00,303.60 L328.50,303.60 L329.00,303.60 L329.50,303.60 L330.00,303.59 L330.50,303.59 L331.00,303.59 L331.50,303.58 L332.00,303.57 L332.50,303.56 L333.00,303.55 L333.50,303.53 L334.00,303.51 L334.50,303.48 L335.00,303.43 L335.50,303.38 L336.00,303.31 L336.50,303.22 L337.00,303.11 L337.50,302.97 L338.00,302.79 L338.50,302.57 L339.00,302.31 L339.50,301.98 L340.00,301.60 L340.50,301.14 L341.00,300.59 L341.50,299.96 L342.00,299.22 L342.50,298.38 L343.00,297.42 L343.50,296.34 L344.00,295.14 L344.50,293.81 L345.00,292.37 L345.50,290.81 L346.00,289.14 L346.50,287.39 L347.00,285.56 L347.50,283.68 L348.00,281.76 L348.50,279.85 L349.00,277.98 L349.50,276.16 L350.00,274.44 L350.50,272.85 L351.00,271.42 L351.50,270.18 L352.00,269.17 L352.50,268.39 L353.00,267.87 L353.50,267.62 L354.00,267.65 L354.50,267.95 L355.00,268.52 L355.50,269.35 L356.00,270.41 L356.50,271.69 L357.00,273.15 L357.50,274.77 L358.00,276.52 L358.50,278.35 L359.00,280.24 L359.50,282.15 L360.00,284.06 L360.50,285.93 L361.00,287.75 L361.50,289.49 L362.00,291.13 L362.50,292.67 L363.00,294.09 L363.50,295.39 L364.00,296.57 L364.50,297.62 L365.00,298.55 L365.50,299.38 L366.00,300.09 L366.50,300.71 L367.00,301.23 L367.50,301.68 L368.00,302.05 L368.50,302.36 L369.00,302.62 L369.50,302.83 L370.00,303.00 L370.50,303.13 L371.00,303.24 L371.50,303.33 L372.00,303.39 L372.50,303.44 L373.00,303.48 L373.50,303.51 L374.00,303.54 L374.50,303.55 L375.00,303.57 L375.50,303.58 L376.00,303.58 L376.50,303.59 L377.00,303.59 L377.50,303.59 L378.00,303.60 L378.50,303.60 L379.00,303.60 L379.50,303.60 L380.00,303.60 L380.50,303.60 L381.00,303.60 L381.50,303.60 L382.00,303.60 L382.50,303.60 L383.00,303.60 L383.50,303.60 L384.00,303.60 L384.50,303.60 L385.00,303.60 L385.50,303.60 L386.00,303.60 L386.50,303.60 L387.00,303.60 L387.50,303.60 L388.00,303.60 L388.50,303.60 L389.00,303.60 L389.50,303.60 L390.00,303.60 L390.50,303.60 L391.00,303.60" stroke="#405d9a" stroke-width="1.2" fill="none" stroke-linejoin="round" />
<path d="M288.00,320.32 L288.50,320.19 L289.00,320.05 L289.50,319.89 L290.00,319.72 L290.50,319.54 L291.00,319.34 L291.50,319.13 L292.00,318.91 L292.50,318.67 L293.00,318.42 L293.50,318.15 L294.00,317.88 L294.50,317.59 L295.00,317.29 L295.50,316.98 L296.00,316.66 L296.50,316.34 L297.00,316.01 L297.50,315.67 L298.00,315.33 L298.50,315.00 L299.00,314.66 L299.50,314.33 L300.00,314.01 L300.50,313.70 L301.00,313.39 L301.50,313.10 L302.00,312.83 L302.50,312.57 L303.00,312.34 L303.50,312.13 L304.00,311.94 L304.50,311.78 L305.00,311.64 L305.50,311.53 L306.00,311.45 L306.50,311.39 L307.00,311.35 L307.50,311.33 L308.00,311.32 L308.50,311.30 L309.00,311.26 L309.50,311.19 L310.00,311.04 L310.50,310.80 L311.00,310.41 L311.50,309.86 L312.00,309.09 L312.50,308.07 L313.00,306.80 L313.50,305.25 L314.00,303.47 L314.50,301.49 L315.00,299.39 L315.50,297.27 L316.00,295.25 L316.50,293.48 L317.00,292.07 L317.50,291.14 L318.00,290.78 L318.50,291.03 L319.00,291.90 L319.50,293.35 L320.00,295.30 L320.50,297.63 L321.00,300.20 L321.50,302.90 L322.00,305.58 L322.50,308.14 L323.00,310.50 L323.50,312.59 L324.00,314.40 L324.50,315.91 L325.00,317.14 L325.50,318.12 L326.00,318.89 L326.50,319.47 L327.00,319.91 L327.50,320.24 L328.00,320.48 L328.50,320.66 L329.00,320.80 L329.50,320.90 L330.00,320.99 L330.50,321.05 L331.00,321.10 L331.50,321.15 L332.00,321.19 L332.50,321.22 L333.00,321.25 L333.50,321.27 L334.00,321.29" stroke="#bbb" stroke-width="0.9" fill="none" stroke-linejoin="round" stroke-dasharray="1,1.2"/>
</g>
<line x1="299.3" y1="321.6" x2="299.3" y2="325.2" stroke="#231f20" stroke-width="1" />
<line x1="353.7" y1="321.6" x2="353.7" y2="325.2" stroke="#231f20" stroke-width="1" />
<line x1="277.75206352824114" y1="321.6" x2="277.75206352824114" y2="323.8" stroke="#231f20" stroke-width="0.8" />
<line x1="283.0239682358794" y1="321.6" x2="283.0239682358794" y2="323.8" stroke="#231f20" stroke-width="0.8" />
<line x1="287.3314280208702" y1="321.6" x2="287.3314280208702" y2="323.8" stroke="#231f20" stroke-width="0.8" />
<line x1="290.9733333767756" y1="321.6" x2="290.9733333767756" y2="323.8" stroke="#231f20" stroke-width="0.8" />
<line x1="294.1280952923617" y1="321.6" x2="294.1280952923617" y2="323.8" stroke="#231f20" stroke-width="0.8" />
<line x1="296.91079251349925" y1="321.6" x2="296.91079251349925" y2="323.8" stroke="#231f20" stroke-width="0.8" />
<line x1="315.6760317641206" y1="321.6" x2="315.6760317641206" y2="323.8" stroke="#231f20" stroke-width="0.8" />
<line x1="325.25539625674963" y1="321.6" x2="325.25539625674963" y2="323.8" stroke="#231f20" stroke-width="0.8" />
<line x1="332.05206352824115" y1="321.6" x2="332.05206352824115" y2="323.8" stroke="#231f20" stroke-width="0.8" />
<line x1="337.3239682358794" y1="321.6" x2="337.3239682358794" y2="323.8" stroke="#231f20" stroke-width="0.8" />
<line x1="341.6314280208702" y1="321.6" x2="341.6314280208702" y2="323.8" stroke="#231f20" stroke-width="0.8" />
<line x1="345.27333337677555" y1="321.6" x2="345.27333337677555" y2="323.8" stroke="#231f20" stroke-width="0.8" />
<line x1="348.4280952923617" y1="321.6" x2="348.4280952923617" y2="323.8" stroke="#231f20" stroke-width="0.8" />
<line x1="351.2107925134993" y1="321.6" x2="351.2107925134993" y2="323.8" stroke="#231f20" stroke-width="0.8" />
<line x1="370.07603176412056" y1="321.6" x2="370.07603176412056" y2="323.8" stroke="#231f20" stroke-width="0.8" />
<line x1="379.6553962567496" y1="321.6" x2="379.6553962567496" y2="323.8" stroke="#231f20" stroke-width="0.8" />
<line x1="386.4520635282411" y1="321.6" x2="386.4520635282411" y2="323.8" stroke="#231f20" stroke-width="0.8" />
<text x="300.2" y="335.8" font-size="9.2" text-anchor="middle" fill="#231f20" textLength="12.6" lengthAdjust="spacingAndGlyphs" >10<tspan dy="-3.8" font-size="6.6">4</tspan></text>
<text x="354.6" y="335.8" font-size="9.2" text-anchor="middle" fill="#231f20" textLength="12.6" lengthAdjust="spacingAndGlyphs" >10<tspan dy="-3.8" font-size="6.6">5</tspan></text>
<line x1="272.8" y1="341" x2="401" y2="341" stroke="#555" stroke-width="1.2" />
<path d="M398.5,337.8 L404.5,341 L398.5,344.2 Z" stroke="#222" stroke-width="0.5" fill="#222" stroke-linejoin="round" />
<text x="332" y="353.1" font-size="10" text-anchor="middle" fill="#231f20" textLength="33" lengthAdjust="spacingAndGlyphs" >IFITM2/3</text>
<text transform="translate(267.2,263.5) rotate(-90)" font-size="10.2" text-anchor="middle" fill="#231f20" textLength="95.5" lengthAdjust="spacingAndGlyphs">Count normalized to mode</text>
<text x="434.4" y="234.3" font-size="7" text-anchor="middle" fill="#231f20" textLength="45" lengthAdjust="spacingAndGlyphs" >Sample Name:</text>
<line x1="411.9" y1="234.70000000000002" x2="456.9" y2="234.70000000000002" stroke="#555" stroke-width="0.55" />
<text x="484.5" y="225.8" font-size="7" text-anchor="middle" fill="#231f20" >Median</text>
<line x1="472" y1="226.20000000000002" x2="497" y2="226.20000000000002" stroke="#555" stroke-width="0.55" />
<text x="484.5" y="234.3" font-size="7" text-anchor="middle" fill="#231f20" textLength="40.4" lengthAdjust="spacingAndGlyphs" >Fluorescence</text>
<line x1="464.3" y1="234.70000000000002" x2="504.7" y2="234.70000000000002" stroke="#555" stroke-width="0.55" />
<text x="484.5" y="241.9" font-size="7" text-anchor="middle" fill="#231f20" >Intensity</text>
<line x1="471" y1="242.3" x2="498" y2="242.3" stroke="#555" stroke-width="0.55" />
<rect x="397.6" y="248.70000000000002" width="7.4" height="7.4" fill="none" stroke="#76b856" stroke-width="1.1" stroke-dasharray="4,1.5"/>
<text x="411.2" y="254.6" font-size="6.1" text-anchor="start" fill="#231f20" textLength="41.2" lengthAdjust="spacingAndGlyphs" ><tspan font-style="italic">IFITM3</tspan> KO Cara</text>
<text x="484.3" y="254.6" font-size="6.1" text-anchor="middle" fill="#231f20" >30991</text>
<rect x="397.6" y="261.40000000000003" width="7.4" height="7.4" fill="none" stroke="#405d9a" stroke-width="1.1" stroke-dasharray="4,1.5"/>
<text x="411.2" y="267.3" font-size="6.1" text-anchor="start" fill="#231f20" textLength="47.3" lengthAdjust="spacingAndGlyphs" ><tspan font-style="italic">IFITM3</tspan> KO DMSO</text>
<text x="484.3" y="267.3" font-size="6.1" text-anchor="middle" fill="#231f20" >48859</text>
<rect x="397.6" y="274.1" width="7.4" height="7.4" fill="none" stroke="#76b856" stroke-width="1.1" />
<text x="411.2" y="280.0" font-size="6.1" text-anchor="start" fill="#231f20" textLength="22.5" lengthAdjust="spacingAndGlyphs" >WT Cara</text>
<text x="484.3" y="280.0" font-size="6.1" text-anchor="middle" fill="#231f20" >45755</text>
<rect x="397.6" y="286.8" width="7.4" height="7.4" fill="none" stroke="#405d9a" stroke-width="1.1" />
<text x="411.2" y="292.7" font-size="6.1" text-anchor="start" fill="#231f20" textLength="28.8" lengthAdjust="spacingAndGlyphs" >WT DMSO</text>
<text x="484.3" y="292.7" font-size="6.1" text-anchor="middle" fill="#231f20" >95558</text>
<rect x="397.6" y="299.5" width="7.4" height="7.4" fill="none" stroke="#ccc" stroke-width="1.1" stroke-dasharray="1,1"/>
<text x="411.2" y="305.4" font-size="6.1" text-anchor="start" fill="#231f20" textLength="40.5" lengthAdjust="spacingAndGlyphs" >Isotype Control</text>
<text x="484.3" y="305.4" font-size="6.1" text-anchor="middle" fill="#231f20" >20090</text>
<text x="139.05" y="392.6" font-size="8.6" text-anchor="middle" fill="#231f20" textLength="97" lengthAdjust="spacingAndGlyphs" >Pooled UCB CD34<tspan dy="-3.2" font-size="6">+</tspan><tspan dy="3.2"> Cells</tspan></text>
<text x="139.0" y="402.1" font-size="8.6" text-anchor="middle" fill="#231f20" textLength="43" lengthAdjust="spacingAndGlyphs" >Donors 1-9</text>
<rect x="77.2" y="408.2" width="123.6" height="102.4" fill="none" stroke="#000" stroke-width="1.3" />
<path d="M77.50,441.75 L92.00,441.75 L92.90,438.77 L93.80,435.79 L94.70,432.71 L95.60,431.17 L96.50,429.84 L97.40,430.29 L98.30,429.24 L99.20,429.75 L100.10,430.02 L101.00,429.21 L101.90,429.34 L102.80,428.01 L103.70,428.11 L104.60,427.35 L105.50,427.31 L106.40,426.90 L107.30,425.65 L108.20,425.42 L109.10,424.89 L110.00,425.01 L110.90,423.82 L111.80,421.74 L112.70,421.49 L113.60,419.78 L114.50,419.66 L115.40,417.31 L116.30,415.47 L117.20,415.28 L118.10,412.94 L119.00,411.60 L119.90,411.75 L120.80,411.21 L121.70,410.59 L122.60,412.30 L123.50,412.68 L124.40,414.00 L125.30,414.59 L126.20,417.12 L127.10,418.32 L128.00,418.99 L128.90,418.13 L129.80,417.88 L130.70,418.88 L131.60,420.07 L132.50,421.50 L133.40,423.37 L134.30,425.68 L135.20,427.84 L136.10,427.90 L137.00,429.75 L137.90,430.17 L138.80,431.03 L139.70,432.65 L140.60,433.07 L141.50,433.65 L142.40,434.46 L143.30,435.34 L144.20,434.99 L145.10,436.79 L146.00,435.97 L146.90,437.51 L147.80,438.15 L148.70,437.51 L149.60,439.10 L150.50,439.03 L151.40,439.76 L152.30,440.34 L153.20,440.91 L154.10,441.49 L154.50,441.75 L200.50,441.75" stroke="#c0254a" stroke-width="1.0" fill="none" stroke-linejoin="round" />
<path d="M77.50,464.25 L97.00,464.25 L97.90,462.05 L98.80,459.48 L99.70,456.78 L100.60,455.57 L101.50,454.47 L102.40,454.79 L103.30,454.66 L104.20,455.29 L105.10,454.39 L106.00,454.31 L106.90,452.64 L107.80,452.28 L108.70,451.12 L109.60,449.78 L110.50,449.05 L111.40,448.02 L112.30,446.10 L113.20,447.05 L114.10,448.21 L115.00,447.34 L115.90,447.97 L116.80,446.97 L117.70,445.91 L118.60,444.39 L119.50,443.49 L120.40,444.32 L121.30,444.66 L122.20,444.19 L123.10,442.67 L124.00,441.58 L124.90,440.39 L125.80,437.31 L126.70,436.24 L127.60,434.45 L128.50,433.75 L129.40,435.13 L130.30,434.40 L131.20,436.04 L132.10,437.13 L133.00,437.09 L133.90,437.92 L134.80,439.28 L135.70,440.68 L136.60,442.04 L137.50,441.84 L138.40,442.61 L139.30,443.54 L140.20,444.33 L141.10,447.62 L142.00,450.68 L142.90,453.43 L143.80,454.49 L144.70,455.26 L145.60,457.02 L146.50,457.34 L147.40,457.98 L148.30,458.96 L149.20,459.01 L150.10,459.67 L151.00,461.31 L151.90,461.80 L152.80,462.27 L153.70,463.08 L154.60,463.89 L155.00,464.25 L200.50,464.25" stroke="#76b856" stroke-width="1.0" fill="none" stroke-linejoin="round" />
<path d="M77.50,486.75 L102.00,486.75 L102.90,486.23 L103.80,485.70 L104.70,485.18 L105.60,484.15 L106.50,483.01 L107.40,482.81 L108.30,481.26 L109.20,481.19 L110.10,480.19 L111.00,478.68 L111.90,478.23 L112.80,476.93 L113.70,477.71 L114.60,477.30 L115.50,476.43 L116.40,475.99 L117.30,475.66 L118.20,473.77 L119.10,473.01 L120.00,472.68 L120.90,473.35 L121.80,473.06 L122.70,471.92 L123.60,471.68 L124.50,470.53 L125.40,471.60 L126.30,470.47 L127.20,469.80 L128.10,468.86 L129.00,468.23 L129.90,468.04 L130.80,466.25 L131.70,465.91 L132.60,464.99 L133.50,462.82 L134.40,461.27 L135.30,458.87 L136.20,457.15 L137.10,455.86 L138.00,456.71 L138.90,456.94 L139.80,457.76 L140.70,459.72 L141.60,461.11 L142.50,462.50 L143.40,464.79 L144.30,466.69 L145.20,468.37 L146.10,470.88 L147.00,472.72 L147.90,474.96 L148.80,476.28 L149.70,477.19 L150.60,479.45 L151.50,479.42 L152.40,481.01 L153.30,482.33 L154.20,482.29 L155.10,483.55 L156.00,483.52 L156.90,484.77 L157.80,485.37 L158.70,485.77 L159.60,486.12 L160.50,486.46 L161.25,486.75 L200.50,486.75" stroke="#405d9a" stroke-width="1.0" fill="none" stroke-linejoin="round" />
<path d="M86.25,510.00 L88.50,502.00 L90.50,495.00 L92.00,488.00 L93.75,481.25 L95.00,479.50 L97.00,478.75 L98.50,480.50 L100.00,481.25 L101.50,484.50 L103.75,487.50 L105.50,490.00 L107.50,492.50 L110.00,496.00 L112.50,498.75 L115.50,500.50 L118.75,502.50 L121.50,505.50 L125.00,510.00" stroke="#cfcfcf" stroke-width="1.0" fill="none" stroke-linejoin="round" />
<line x1="89.5" y1="510.4" x2="89.5" y2="513.4" stroke="#111" stroke-width="1.0" />
<line x1="103.5" y1="510.4" x2="103.5" y2="513.4" stroke="#111" stroke-width="1.0" />
<line x1="133.25" y1="510.4" x2="133.25" y2="513.4" stroke="#111" stroke-width="1.0" />
<line x1="161.75" y1="510.4" x2="161.75" y2="513.4" stroke="#111" stroke-width="1.0" />
<line x1="189.5" y1="510.4" x2="189.5" y2="513.4" stroke="#111" stroke-width="1.0" />
<line x1="112.45564237100344" y1="510.4" x2="112.45564237100344" y2="512.4" stroke="#222" stroke-width="0.8" />
<line x1="117.69435732790996" y1="510.4" x2="117.69435732790996" y2="512.4" stroke="#222" stroke-width="0.8" />
<line x1="121.41128474200688" y1="510.4" x2="121.41128474200688" y2="512.4" stroke="#222" stroke-width="0.8" />
<line x1="124.29435762899656" y1="510.4" x2="124.29435762899656" y2="512.4" stroke="#222" stroke-width="0.8" />
<line x1="126.6499996989134" y1="510.4" x2="126.6499996989134" y2="512.4" stroke="#222" stroke-width="0.8" />
<line x1="128.64166669042413" y1="510.4" x2="128.64166669042413" y2="512.4" stroke="#222" stroke-width="0.8" />
<line x1="130.36692711301032" y1="510.4" x2="130.36692711301032" y2="512.4" stroke="#222" stroke-width="0.8" />
<line x1="131.8887146558199" y1="510.4" x2="131.8887146558199" y2="512.4" stroke="#222" stroke-width="0.8" />
<line x1="141.82935487642345" y1="510.4" x2="141.82935487642345" y2="512.4" stroke="#222" stroke-width="0.8" />
<line x1="146.84795575951037" y1="510.4" x2="146.84795575951037" y2="512.4" stroke="#222" stroke-width="0.8" />
<line x1="150.40870975284693" y1="510.4" x2="150.40870975284693" y2="512.4" stroke="#222" stroke-width="0.8" />
<line x1="153.17064512357655" y1="510.4" x2="153.17064512357655" y2="512.4" stroke="#222" stroke-width="0.8" />
<line x1="155.42731063593385" y1="510.4" x2="155.42731063593385" y2="512.4" stroke="#222" stroke-width="0.8" />
<line x1="157.33529414040632" y1="510.4" x2="157.33529414040632" y2="512.4" stroke="#222" stroke-width="0.8" />
<line x1="158.98806462927038" y1="510.4" x2="158.98806462927038" y2="512.4" stroke="#222" stroke-width="0.8" />
<line x1="160.44591151902077" y1="510.4" x2="160.44591151902077" y2="512.4" stroke="#222" stroke-width="0.8" />
<line x1="170.1035823796755" y1="510.4" x2="170.1035823796755" y2="512.4" stroke="#222" stroke-width="0.8" />
<line x1="174.99011481847063" y1="510.4" x2="174.99011481847063" y2="512.4" stroke="#222" stroke-width="0.8" />
<line x1="178.45716475935095" y1="510.4" x2="178.45716475935095" y2="512.4" stroke="#222" stroke-width="0.8" />
<line x1="181.1464176203245" y1="510.4" x2="181.1464176203245" y2="512.4" stroke="#222" stroke-width="0.8" />
<line x1="183.34369719814612" y1="510.4" x2="183.34369719814612" y2="512.4" stroke="#222" stroke-width="0.8" />
<line x1="185.20147061039563" y1="510.4" x2="185.20147061039563" y2="512.4" stroke="#222" stroke-width="0.8" />
<line x1="186.81074713902643" y1="510.4" x2="186.81074713902643" y2="512.4" stroke="#222" stroke-width="0.8" />
<line x1="188.23022963694126" y1="510.4" x2="188.23022963694126" y2="512.4" stroke="#222" stroke-width="0.8" />
<line x1="197.8535823796755" y1="510.4" x2="197.8535823796755" y2="512.4" stroke="#222" stroke-width="0.8" />
<line x1="93.0" y1="510.4" x2="93.0" y2="512.4" stroke="#222" stroke-width="0.8" />
<line x1="96.5" y1="510.4" x2="96.5" y2="512.4" stroke="#222" stroke-width="0.8" />
<line x1="100.0" y1="510.4" x2="100.0" y2="512.4" stroke="#222" stroke-width="0.8" />
<line x1="86.9" y1="510.4" x2="86.9" y2="512.4" stroke="#222" stroke-width="0.8" />
<line x1="84.3" y1="510.4" x2="84.3" y2="512.4" stroke="#222" stroke-width="0.8" />
<line x1="81.7" y1="510.4" x2="81.7" y2="512.4" stroke="#222" stroke-width="0.8" />
<line x1="79.1" y1="510.4" x2="79.1" y2="512.4" stroke="#222" stroke-width="0.8" />
<text x="90.25" y="523.1" font-size="8.8" text-anchor="middle" fill="#231f20" textLength="4.6" lengthAdjust="spacingAndGlyphs" >0</text>
<text x="103.7" y="523.1" font-size="8.8" text-anchor="middle" fill="#231f20" textLength="12.2" lengthAdjust="spacingAndGlyphs" >10<tspan dy="-3.5" font-size="6.2">2</tspan></text>
<text x="133.4" y="523.1" font-size="8.8" text-anchor="middle" fill="#231f20" textLength="12.2" lengthAdjust="spacingAndGlyphs" >10<tspan dy="-3.5" font-size="6.2">3</tspan></text>
<text x="162" y="523.1" font-size="8.8" text-anchor="middle" fill="#231f20" textLength="12.2" lengthAdjust="spacingAndGlyphs" >10<tspan dy="-3.5" font-size="6.2">4</tspan></text>
<text x="189.7" y="523.1" font-size="8.8" text-anchor="middle" fill="#231f20" textLength="12.2" lengthAdjust="spacingAndGlyphs" >10<tspan dy="-3.5" font-size="6.2">5</tspan></text>
<line x1="67.3" y1="409" x2="67.3" y2="528.1" stroke="#222" stroke-width="1.4" />
<path d="M67.3,405.6 L70.1,411.6 L67.3,410.4 L64.5,411.6 Z" stroke="#000" stroke-width="0.4" fill="#000" stroke-linejoin="round" />
<line x1="66.6" y1="527.4" x2="195" y2="527.4" stroke="#222" stroke-width="1.4" />
<path d="M198.2,527.4 L192.2,530.2 L193.4,527.4 L192.2,524.6 Z" stroke="#000" stroke-width="0.4" fill="#000" stroke-linejoin="round" />
<text x="134.4" y="539.6" font-size="10" text-anchor="middle" fill="#231f20" textLength="32" lengthAdjust="spacingAndGlyphs" >IFITM2/3</text>
<text transform="translate(62.0,467.4) rotate(-90)" font-size="10.2" text-anchor="middle" fill="#231f20" textLength="95.5" lengthAdjust="spacingAndGlyphs">Count normalized to mode</text>
<text x="100.4" y="559.2" font-size="6.8" text-anchor="middle" fill="#231f20" >Donor UCB</text>
<line x1="84" y1="559.6" x2="117" y2="559.6" stroke="#555" stroke-width="0.55" />
<text x="100.4" y="567.3" font-size="6.8" text-anchor="middle" fill="#231f20" textLength="44.8" lengthAdjust="spacingAndGlyphs" >Sample Name:</text>
<line x1="78" y1="567.6999999999999" x2="122.8" y2="567.6999999999999" stroke="#555" stroke-width="0.55" />
<text x="149.4" y="554.6" font-size="6.8" text-anchor="middle" fill="#231f20" >Median</text>
<line x1="137" y1="555.0" x2="162" y2="555.0" stroke="#555" stroke-width="0.55" />
<text x="149.4" y="562.7" font-size="6.8" text-anchor="middle" fill="#231f20" textLength="40.4" lengthAdjust="spacingAndGlyphs" >Fluorescence</text>
<line x1="129.2" y1="563.1" x2="169.6" y2="563.1" stroke="#555" stroke-width="0.55" />
<text x="149.4" y="570.8" font-size="6.8" text-anchor="middle" fill="#231f20" >Intensity</text>
<line x1="136" y1="571.1999999999999" x2="163" y2="571.1999999999999" stroke="#555" stroke-width="0.55" />
<rect x="67.3" y="581.9000000000001" width="7.6" height="7.6" fill="none" stroke="#405d9a" stroke-width="1.1" rx="0.8"/>
<text x="80.8" y="584.3000000000001" font-size="5.9" text-anchor="start" fill="#231f20" >DMSO UCB</text>
<text x="80.8" y="591.1" font-size="5.9" text-anchor="start" fill="#231f20" >CD34<tspan dy="-2.2" font-size="4.4">+</tspan><tspan dy="2.2"> Cells</tspan></text>
<text x="149.5" y="587.8000000000001" font-size="5.9" text-anchor="middle" fill="#231f20" >1120</text>
<rect x="67.3" y="601.3000000000001" width="7.6" height="7.6" fill="none" stroke="#76b856" stroke-width="1.1" rx="0.8"/>
<text x="80.8" y="603.7" font-size="5.9" text-anchor="start" fill="#231f20" >Cara UCB</text>
<text x="80.8" y="610.5" font-size="5.9" text-anchor="start" fill="#231f20" >CD34<tspan dy="-2.2" font-size="4.4">+</tspan><tspan dy="2.2"> Cells</tspan></text>
<text x="149.5" y="607.2" font-size="5.9" text-anchor="middle" fill="#231f20" >634</text>
<rect x="67.3" y="620.9000000000001" width="7.6" height="7.6" fill="none" stroke="#c0254a" stroke-width="1.1" rx="0.8"/>
<text x="80.8" y="623.3000000000001" font-size="5.9" text-anchor="start" fill="#231f20" >Rapa UCB</text>
<text x="80.8" y="630.1" font-size="5.9" text-anchor="start" fill="#231f20" >CD34<tspan dy="-2.2" font-size="4.4">+</tspan><tspan dy="2.2"> Cells</tspan></text>
<text x="149.5" y="626.8000000000001" font-size="5.9" text-anchor="middle" fill="#231f20" >370</text>
<rect x="67.3" y="636.6" width="7.6" height="7.6" fill="none" stroke="#d8d8d8" stroke-width="1.1" rx="0.8"/>
<text x="80.8" y="642.4" font-size="5.9" text-anchor="start" fill="#231f20" >Isotype Control</text>
<text x="149.5" y="642.4" font-size="5.9" text-anchor="middle" fill="#231f20" >85.4</text>
<text x="342.8" y="392.4" font-size="8.4" text-anchor="middle" fill="#231f20" textLength="67.2" lengthAdjust="spacingAndGlyphs" >mPB CD34<tspan dy="-3.2" font-size="6">+</tspan><tspan dy="3.2"> Cells</tspan></text>
<text x="342.8" y="402.4" font-size="8.4" text-anchor="middle" fill="#231f20" textLength="50.6" lengthAdjust="spacingAndGlyphs" >Donors 1 &amp; 2</text>
<rect x="282.4" y="407.9" width="120.4" height="117.70000000000005" fill="none" stroke="#000" stroke-width="1.3" />
<clipPath id="clipF10"><rect x="283" y="408.5" width="119.2" height="116.50000000000004"/></clipPath>
<g clip-path="url(#clipF10)">
<path d="M283.00,451.20 L283.40,451.20 L283.80,451.20 L284.20,451.20 L284.60,451.20 L285.00,451.20 L285.40,451.20 L285.80,451.20 L286.20,451.20 L286.60,451.20 L287.00,451.20 L287.40,451.20 L287.80,451.20 L288.20,451.20 L288.60,451.20 L289.00,451.20 L289.40,451.20 L289.80,451.20 L290.20,451.20 L290.60,451.20 L291.00,451.20 L291.40,451.20 L291.80,451.20 L292.20,451.20 L292.60,451.20 L293.00,451.20 L293.40,451.20 L293.80,451.20 L294.20,451.20 L294.60,451.20 L295.00,451.20 L295.40,451.20 L295.80,451.20 L296.20,451.20 L296.60,451.20 L297.00,451.20 L297.40,451.20 L297.80,451.20 L298.20,451.20 L298.60,451.20 L299.00,451.20 L299.40,451.20 L299.80,451.20 L300.20,451.20 L300.60,451.20 L301.00,451.20 L301.40,451.20 L301.80,451.20 L302.20,451.20 L302.60,451.20 L303.00,451.20 L303.40,451.20 L303.80,451.20 L304.20,451.20 L304.60,451.20 L305.00,451.20 L305.40,451.20 L305.80,451.20 L306.20,451.20 L306.60,451.20 L307.00,451.20 L307.40,451.20 L307.80,451.20 L308.20,451.20 L308.60,451.20 L309.00,451.20 L309.40,451.20 L309.80,451.20 L310.20,451.20 L310.60,451.20 L311.00,451.20 L311.40,451.20 L311.80,451.20 L312.20,451.20 L312.60,451.20 L313.00,451.20 L313.40,451.20 L313.80,451.20 L314.20,451.20 L314.60,451.20 L315.00,451.20 L315.40,451.20 L315.80,451.20 L316.20,451.20 L316.60,451.20 L317.00,451.20 L317.40,451.20 L317.80,451.20 L318.20,451.20 L318.60,451.20 L319.00,451.20 L319.40,451.20 L319.80,451.20 L320.20,451.19 L320.60,451.17 L321.00,451.16 L321.40,451.14 L321.80,451.13 L322.20,451.11 L322.60,451.09 L323.00,451.08 L323.40,451.06 L323.80,451.04 L324.20,451.03 L324.60,451.01 L325.00,450.99 L325.40,450.98 L325.80,450.96 L326.20,450.94 L326.60,450.93 L327.00,450.90 L327.40,450.85 L327.80,450.77 L328.20,450.68 L328.60,450.58 L329.00,450.49 L329.40,450.39 L329.80,450.29 L330.20,450.19 L330.60,450.08 L331.00,449.90 L331.40,449.65 L331.80,449.33 L332.20,449.01 L332.60,448.67 L333.00,448.34 L333.40,448.01 L333.80,447.66 L334.20,447.23 L334.60,446.62 L335.00,445.79 L335.40,444.83 L335.80,443.83 L336.20,442.82 L336.60,441.80 L337.00,440.70 L337.40,439.34 L337.80,437.59 L338.20,435.57 L338.60,433.48 L339.00,431.42 L339.40,429.53 L339.80,427.96 L340.20,426.70 L340.60,425.53 L341.00,424.14 L341.40,422.36 L341.80,420.35 L342.20,418.37 L342.60,416.63 L343.00,415.22 L343.40,414.05 L343.80,413.14 L344.20,412.58 L344.60,412.31 L345.00,412.23 L345.40,412.41 L345.80,412.95 L346.20,413.76 L346.60,414.77 L347.00,416.12 L347.40,417.86 L347.80,419.84 L348.20,421.90 L348.60,423.99 L349.00,426.09 L349.40,428.20 L349.80,430.29 L350.20,432.33 L350.60,434.22 L351.00,435.94 L351.40,437.55 L351.80,439.13 L352.20,440.67 L352.60,442.05 L353.00,443.19 L353.40,444.14 L353.80,444.99 L354.20,445.83 L354.60,446.63 L355.00,447.34 L355.40,447.91 L355.80,448.39 L356.20,448.84 L356.60,449.29 L357.00,449.71 L357.40,450.07 L357.80,450.32 L358.20,450.47 L358.60,450.58 L359.00,450.69 L359.40,450.79 L359.80,450.89 L360.20,450.99 L360.60,451.09 L361.00,451.16 L361.40,451.19 L361.80,451.20 L362.20,451.20 L362.60,451.20 L363.00,451.20 L363.40,451.20 L363.80,451.20 L364.20,451.20 L364.60,451.20 L365.00,451.20 L365.40,451.20 L365.80,451.20 L366.20,451.20 L366.60,451.20 L367.00,451.20 L367.40,451.20 L367.80,451.20 L368.20,451.20 L368.60,451.20 L369.00,451.20 L369.40,451.20 L369.80,451.20 L370.20,451.20 L370.60,451.20 L371.00,451.20 L371.40,451.20 L371.80,451.20 L372.20,451.20 L372.60,451.20 L373.00,451.20 L373.40,451.20 L373.80,451.20 L374.20,451.20 L374.60,451.20 L375.00,451.20 L375.40,451.20 L375.80,451.20 L376.20,451.20 L376.60,451.20 L377.00,451.20 L377.40,451.20 L377.80,451.20 L378.20,451.20 L378.60,451.20 L379.00,451.20 L379.40,451.20 L379.80,451.20 L380.20,451.20 L380.60,451.20 L381.00,451.20 L381.40,451.20 L381.80,451.20 L382.20,451.20 L382.60,451.20 L383.00,451.20 L383.40,451.20 L383.80,451.20 L384.20,451.20 L384.60,451.20 L385.00,451.20 L385.40,451.20 L385.80,451.20 L386.20,451.20 L386.60,451.20 L387.00,451.20 L387.40,451.20 L387.80,451.20 L388.20,451.20 L388.60,451.20 L389.00,451.20 L389.40,451.20 L389.80,451.20 L390.20,451.20 L390.60,451.20 L391.00,451.20 L391.40,451.20 L391.80,451.20 L392.20,451.20 L392.60,451.20 L393.00,451.20 L393.40,451.20 L393.80,451.20 L394.20,451.20 L394.60,451.20 L395.00,451.20 L395.40,451.20 L395.80,451.20 L396.20,451.20 L396.60,451.20 L397.00,451.20 L397.40,451.20 L397.80,451.20 L398.20,451.20 L398.60,451.20 L399.00,451.20 L399.40,451.20 L399.80,451.20 L400.20,451.20 L400.60,451.20 L401.00,451.20 L401.40,451.20 L401.80,451.20 L402.20,451.20 L402.60,451.20" stroke="#c0254a" stroke-width="1.1" fill="none" stroke-linejoin="round" />
<path d="M283.00,475.70 L283.40,475.70 L283.80,475.70 L284.20,475.70 L284.60,475.70 L285.00,475.70 L285.40,475.70 L285.80,475.70 L286.20,475.70 L286.60,475.70 L287.00,475.70 L287.40,475.70 L287.80,475.70 L288.20,475.70 L288.60,475.70 L289.00,475.70 L289.40,475.70 L289.80,475.70 L290.20,475.70 L290.60,475.70 L291.00,475.70 L291.40,475.70 L291.80,475.70 L292.20,475.70 L292.60,475.70 L293.00,475.70 L293.40,475.70 L293.80,475.70 L294.20,475.70 L294.60,475.70 L295.00,475.70 L295.40,475.70 L295.80,475.70 L296.20,475.70 L296.60,475.70 L297.00,475.70 L297.40,475.70 L297.80,475.70 L298.20,475.70 L298.60,475.70 L299.00,475.70 L299.40,475.70 L299.80,475.70 L300.20,475.70 L300.60,475.70 L301.00,475.70 L301.40,475.70 L301.80,475.70 L302.20,475.70 L302.60,475.70 L303.00,475.70 L303.40,475.70 L303.80,475.70 L304.20,475.70 L304.60,475.70 L305.00,475.70 L305.40,475.70 L305.80,475.70 L306.20,475.70 L306.60,475.70 L307.00,475.70 L307.40,475.70 L307.80,475.70 L308.20,475.70 L308.60,475.70 L309.00,475.70 L309.40,475.70 L309.80,475.70 L310.20,475.70 L310.60,475.70 L311.00,475.70 L311.40,475.70 L311.80,475.70 L312.20,475.70 L312.60,475.70 L313.00,475.70 L313.40,475.70 L313.80,475.70 L314.20,475.70 L314.60,475.70 L315.00,475.70 L315.40,475.70 L315.80,475.70 L316.20,475.70 L316.60,475.70 L317.00,475.70 L317.40,475.70 L317.80,475.70 L318.20,475.70 L318.60,475.70 L319.00,475.70 L319.40,475.70 L319.80,475.70 L320.20,475.69 L320.60,475.68 L321.00,475.67 L321.40,475.65 L321.80,475.64 L322.20,475.62 L322.60,475.61 L323.00,475.60 L323.40,475.58 L323.80,475.57 L324.20,475.56 L324.60,475.54 L325.00,475.53 L325.40,475.51 L325.80,475.50 L326.20,475.49 L326.60,475.47 L327.00,475.46 L327.40,475.44 L327.80,475.43 L328.20,475.40 L328.60,475.31 L329.00,475.14 L329.40,474.90 L329.80,474.62 L330.20,474.34 L330.60,474.06 L331.00,473.78 L331.40,473.49 L331.80,473.21 L332.20,472.93 L332.60,472.65 L333.00,472.36 L333.40,472.01 L333.80,471.48 L334.20,470.67 L334.60,469.68 L335.00,468.63 L335.40,467.52 L335.80,466.23 L336.20,464.58 L336.60,462.59 L337.00,460.42 L337.40,458.21 L337.80,456.04 L338.20,453.97 L338.60,452.03 L339.00,450.17 L339.40,448.34 L339.80,446.53 L340.20,444.82 L340.60,443.26 L341.00,441.85 L341.40,440.57 L341.80,439.56 L342.20,438.94 L342.60,438.56 L343.00,438.21 L343.40,437.79 L343.80,437.39 L344.20,437.20 L344.60,437.42 L345.00,438.07 L345.40,439.11 L345.80,440.73 L346.20,443.11 L346.60,445.80 L347.00,448.12 L347.40,449.87 L347.80,451.41 L348.20,453.14 L348.60,455.05 L349.00,456.87 L349.40,458.44 L349.80,459.81 L350.20,461.13 L350.60,462.42 L351.00,463.69 L351.40,464.93 L351.80,466.15 L352.20,467.37 L352.60,468.60 L353.00,469.82 L353.40,471.02 L353.80,472.11 L354.20,472.95 L354.60,473.48 L355.00,473.82 L355.40,474.10 L355.80,474.38 L356.20,474.66 L356.60,474.94 L357.00,475.20 L357.40,475.44 L357.80,475.61 L358.20,475.68 L358.60,475.70 L359.00,475.70 L359.40,475.70 L359.80,475.70 L360.20,475.70 L360.60,475.70 L361.00,475.70 L361.40,475.70 L361.80,475.70 L362.20,475.70 L362.60,475.70 L363.00,475.70 L363.40,475.70 L363.80,475.70 L364.20,475.70 L364.60,475.70 L365.00,475.70 L365.40,475.70 L365.80,475.70 L366.20,475.70 L366.60,475.70 L367.00,475.70 L367.40,475.70 L367.80,475.70 L368.20,475.70 L368.60,475.70 L369.00,475.70 L369.40,475.70 L369.80,475.70 L370.20,475.70 L370.60,475.70 L371.00,475.70 L371.40,475.70 L371.80,475.70 L372.20,475.70 L372.60,475.70 L373.00,475.70 L373.40,475.70 L373.80,475.70 L374.20,475.70 L374.60,475.70 L375.00,475.70 L375.40,475.70 L375.80,475.70 L376.20,475.70 L376.60,475.70 L377.00,475.70 L377.40,475.70 L377.80,475.70 L378.20,475.70 L378.60,475.70 L379.00,475.70 L379.40,475.70 L379.80,475.70 L380.20,475.70 L380.60,475.70 L381.00,475.70 L381.40,475.70 L381.80,475.70 L382.20,475.70 L382.60,475.70 L383.00,475.70 L383.40,475.70 L383.80,475.70 L384.20,475.70 L384.60,475.70 L385.00,475.70 L385.40,475.70 L385.80,475.70 L386.20,475.70 L386.60,475.70 L387.00,475.70 L387.40,475.70 L387.80,475.70 L388.20,475.70 L388.60,475.70 L389.00,475.70 L389.40,475.70 L389.80,475.70 L390.20,475.70 L390.60,475.70 L391.00,475.70 L391.40,475.70 L391.80,475.70 L392.20,475.70 L392.60,475.70 L393.00,475.70 L393.40,475.70 L393.80,475.70 L394.20,475.70 L394.60,475.70 L395.00,475.70 L395.40,475.70 L395.80,475.70 L396.20,475.70 L396.60,475.70 L397.00,475.70 L397.40,475.70 L397.80,475.70 L398.20,475.70 L398.60,475.70 L399.00,475.70 L399.40,475.70 L399.80,475.70 L400.20,475.70 L400.60,475.70 L401.00,475.70 L401.40,475.70 L401.80,475.70 L402.20,475.70 L402.60,475.70" stroke="#76b856" stroke-width="1.1" fill="none" stroke-linejoin="round" />
<path d="M283.00,500.80 L283.40,500.80 L283.80,500.80 L284.20,500.80 L284.60,500.80 L285.00,500.80 L285.40,500.80 L285.80,500.80 L286.20,500.80 L286.60,500.80 L287.00,500.80 L287.40,500.80 L287.80,500.80 L288.20,500.80 L288.60,500.80 L289.00,500.80 L289.40,500.80 L289.80,500.80 L290.20,500.80 L290.60,500.80 L291.00,500.80 L291.40,500.80 L291.80,500.80 L292.20,500.80 L292.60,500.80 L293.00,500.80 L293.40,500.80 L293.80,500.80 L294.20,500.80 L294.60,500.80 L295.00,500.80 L295.40,500.80 L295.80,500.80 L296.20,500.80 L296.60,500.80 L297.00,500.80 L297.40,500.80 L297.80,500.80 L298.20,500.80 L298.60,500.80 L299.00,500.80 L299.40,500.80 L299.80,500.80 L300.20,500.80 L300.60,500.80 L301.00,500.80 L301.40,500.80 L301.80,500.80 L302.20,500.80 L302.60,500.80 L303.00,500.80 L303.40,500.80 L303.80,500.80 L304.20,500.80 L304.60,500.80 L305.00,500.80 L305.40,500.80 L305.80,500.80 L306.20,500.80 L306.60,500.80 L307.00,500.80 L307.40,500.80 L307.80,500.80 L308.20,500.80 L308.60,500.80 L309.00,500.80 L309.40,500.80 L309.80,500.80 L310.20,500.80 L310.60,500.80 L311.00,500.80 L311.40,500.80 L311.80,500.80 L312.20,500.80 L312.60,500.80 L313.00,500.80 L313.40,500.80 L313.80,500.80 L314.20,500.80 L314.60,500.80 L315.00,500.80 L315.40,500.80 L315.80,500.80 L316.20,500.80 L316.60,500.80 L317.00,500.80 L317.40,500.80 L317.80,500.80 L318.20,500.80 L318.60,500.80 L319.00,500.80 L319.40,500.80 L319.80,500.79 L320.20,500.78 L320.60,500.75 L321.00,500.72 L321.40,500.69 L321.80,500.66 L322.20,500.62 L322.60,500.59 L323.00,500.56 L323.40,500.53 L323.80,500.49 L324.20,500.46 L324.60,500.43 L325.00,500.40 L325.40,500.37 L325.80,500.33 L326.20,500.30 L326.60,500.27 L327.00,500.24 L327.40,500.20 L327.80,500.17 L328.20,500.13 L328.60,500.07 L329.00,499.98 L329.40,499.86 L329.80,499.73 L330.20,499.60 L330.60,499.47 L331.00,499.33 L331.40,499.20 L331.80,499.07 L332.20,498.93 L332.60,498.80 L333.00,498.67 L333.40,498.53 L333.80,498.40 L334.20,498.27 L334.60,498.13 L335.00,498.00 L335.40,497.87 L335.80,497.73 L336.20,497.60 L336.60,497.47 L337.00,497.32 L337.40,497.15 L337.80,496.93 L338.20,496.69 L338.60,496.43 L339.00,496.18 L339.40,495.92 L339.80,495.67 L340.20,495.41 L340.60,495.16 L341.00,494.90 L341.40,494.65 L341.80,494.39 L342.20,494.13 L342.60,493.84 L343.00,493.44 L343.40,492.81 L343.80,491.97 L344.20,491.01 L344.60,490.02 L345.00,489.03 L345.40,488.02 L345.80,486.94 L346.20,485.70 L346.60,484.25 L347.00,482.69 L347.40,481.10 L347.80,479.50 L348.20,477.90 L348.60,476.33 L349.00,474.81 L349.40,473.40 L349.80,472.05 L350.20,470.72 L350.60,469.42 L351.00,468.21 L351.40,467.17 L351.80,466.29 L352.20,465.51 L352.60,464.79 L353.00,464.18 L353.40,463.75 L353.80,463.46 L354.20,463.19 L354.60,462.86 L355.00,462.49 L355.40,462.33 L355.80,462.69 L356.20,463.58 L356.60,464.74 L357.00,465.95 L357.40,467.09 L357.80,468.03 L358.20,468.66 L358.60,469.16 L359.00,469.98 L359.40,471.36 L359.80,473.09 L360.20,474.93 L360.60,476.79 L361.00,478.64 L361.40,480.47 L361.80,482.29 L362.20,484.09 L362.60,485.88 L363.00,487.67 L363.40,489.46 L363.80,491.18 L364.20,492.69 L364.60,493.86 L365.00,494.75 L365.40,495.51 L365.80,496.25 L366.20,496.98 L366.60,497.72 L367.00,498.44 L367.40,499.14 L367.80,499.70 L368.20,500.06 L368.60,500.25 L369.00,500.36 L369.40,500.46 L369.80,500.56 L370.20,500.65 L370.60,500.73 L371.00,500.78 L371.40,500.79 L371.80,500.80 L372.20,500.80 L372.60,500.80 L373.00,500.80 L373.40,500.80 L373.80,500.80 L374.20,500.80 L374.60,500.80 L375.00,500.80 L375.40,500.80 L375.80,500.80 L376.20,500.80 L376.60,500.80 L377.00,500.80 L377.40,500.80 L377.80,500.80 L378.20,500.80 L378.60,500.80 L379.00,500.80 L379.40,500.80 L379.80,500.80 L380.20,500.80 L380.60,500.80 L381.00,500.80 L381.40,500.80 L381.80,500.80 L382.20,500.80 L382.60,500.80 L383.00,500.80 L383.40,500.80 L383.80,500.80 L384.20,500.80 L384.60,500.80 L385.00,500.80 L385.40,500.80 L385.80,500.80 L386.20,500.80 L386.60,500.80 L387.00,500.80 L387.40,500.80 L387.80,500.80 L388.20,500.80 L388.60,500.80 L389.00,500.80 L389.40,500.80 L389.80,500.80 L390.20,500.80 L390.60,500.80 L391.00,500.80 L391.40,500.80 L391.80,500.80 L392.20,500.80 L392.60,500.80 L393.00,500.80 L393.40,500.80 L393.80,500.80 L394.20,500.80 L394.60,500.80 L395.00,500.80 L395.40,500.80 L395.80,500.80 L396.20,500.80 L396.60,500.80 L397.00,500.80 L397.40,500.80 L397.80,500.80 L398.20,500.80 L398.60,500.80 L399.00,500.80 L399.40,500.80 L399.80,500.80 L400.20,500.80 L400.60,500.80 L401.00,500.80 L401.40,500.80 L401.80,500.80 L402.20,500.80 L402.60,500.80" stroke="#405d9a" stroke-width="1.1" fill="none" stroke-linejoin="round" />
<path d="M300.00,525.59 L300.50,525.58 L301.00,525.57 L301.50,525.56 L302.00,525.53 L302.50,525.50 L303.00,525.45 L303.50,525.38 L304.00,525.28 L304.50,525.13 L305.00,524.94 L305.50,524.68 L306.00,524.34 L306.50,523.89 L307.00,523.31 L307.50,522.58 L308.00,521.67 L308.50,520.57 L309.00,519.24 L309.50,517.68 L310.00,515.88 L310.50,513.82 L311.00,511.54 L311.50,509.05 L312.00,506.40 L312.50,503.63 L313.00,500.82 L313.50,498.04 L314.00,495.38 L314.50,492.93 L315.00,490.78 L315.50,489.01 L316.00,487.69 L316.50,486.88 L317.00,486.60 L317.50,486.88 L318.00,487.69 L318.50,489.01 L319.00,490.78 L319.50,492.93 L320.00,495.38 L320.50,498.04 L321.00,500.82 L321.50,503.63 L322.00,506.40 L322.50,509.05 L323.00,511.54 L323.50,513.82 L324.00,515.88 L324.50,517.68 L325.00,519.24 L325.50,520.57 L326.00,521.67 L326.50,522.58 L327.00,523.31 L327.50,523.89 L328.00,524.34 L328.50,524.68 L329.00,524.94 L329.50,525.13 L330.00,525.28 L330.50,525.38 L331.00,525.45 L331.50,525.50 L332.00,525.53 L332.50,525.56 L333.00,525.57 L333.50,525.58 L334.00,525.59" stroke="#cfcfcf" stroke-width="1.0" fill="none" stroke-linejoin="round" />
</g>
<line x1="294.75" y1="525.6" x2="294.75" y2="528.6" stroke="#111" stroke-width="1.0" />
<line x1="308.25" y1="525.6" x2="308.25" y2="528.6" stroke="#111" stroke-width="1.0" />
<line x1="336.6" y1="525.6" x2="336.6" y2="528.6" stroke="#111" stroke-width="1.0" />
<line x1="365.6" y1="525.6" x2="365.6" y2="528.6" stroke="#111" stroke-width="1.0" />
<line x1="391.5" y1="525.6" x2="391.5" y2="528.6" stroke="#111" stroke-width="1.0" />
<line x1="316.7842003770739" y1="525.6" x2="316.7842003770739" y2="527.6" stroke="#222" stroke-width="0.8" />
<line x1="321.77638757130245" y1="525.6" x2="321.77638757130245" y2="527.6" stroke="#222" stroke-width="0.8" />
<line x1="325.3184007541478" y1="525.6" x2="325.3184007541478" y2="527.6" stroke="#222" stroke-width="0.8" />
<line x1="328.06579962292614" y1="525.6" x2="328.06579962292614" y2="527.6" stroke="#222" stroke-width="0.8" />
<line x1="330.31058794837634" y1="525.6" x2="330.31058794837634" y2="527.6" stroke="#222" stroke-width="0.8" />
<line x1="332.2085294344042" y1="525.6" x2="332.2085294344042" y2="527.6" stroke="#222" stroke-width="0.8" />
<line x1="333.8526011312216" y1="525.6" x2="333.8526011312216" y2="527.6" stroke="#222" stroke-width="0.8" />
<line x1="335.3027751426049" y1="525.6" x2="335.3027751426049" y2="527.6" stroke="#222" stroke-width="0.8" />
<line x1="345.32986987425545" y1="525.6" x2="345.32986987425545" y2="527.6" stroke="#222" stroke-width="0.8" />
<line x1="350.4365163868702" y1="525.6" x2="350.4365163868702" y2="527.6" stroke="#222" stroke-width="0.8" />
<line x1="354.05973974851094" y1="525.6" x2="354.05973974851094" y2="527.6" stroke="#222" stroke-width="0.8" />
<line x1="356.8701301257446" y1="525.6" x2="356.8701301257446" y2="527.6" stroke="#222" stroke-width="0.8" />
<line x1="359.1663862611257" y1="525.6" x2="359.1663862611257" y2="527.6" stroke="#222" stroke-width="0.8" />
<line x1="361.1078431604135" y1="525.6" x2="361.1078431604135" y2="527.6" stroke="#222" stroke-width="0.8" />
<line x1="362.78960962276636" y1="525.6" x2="362.78960962276636" y2="527.6" stroke="#222" stroke-width="0.8" />
<line x1="364.27303277374045" y1="525.6" x2="364.27303277374045" y2="527.6" stroke="#222" stroke-width="0.8" />
<line x1="373.39667688769714" y1="525.6" x2="373.39667688769714" y2="527.6" stroke="#222" stroke-width="0.8" />
<line x1="377.95744049723925" y1="525.6" x2="377.95744049723925" y2="527.6" stroke="#222" stroke-width="0.8" />
<line x1="381.19335377539426" y1="525.6" x2="381.19335377539426" y2="527.6" stroke="#222" stroke-width="0.8" />
<line x1="383.7033231123029" y1="525.6" x2="383.7033231123029" y2="527.6" stroke="#222" stroke-width="0.8" />
<line x1="385.75411738493636" y1="525.6" x2="385.75411738493636" y2="527.6" stroke="#222" stroke-width="0.8" />
<line x1="387.4880392363693" y1="525.6" x2="387.4880392363693" y2="527.6" stroke="#222" stroke-width="0.8" />
<line x1="388.9900306630913" y1="525.6" x2="388.9900306630913" y2="527.6" stroke="#222" stroke-width="0.8" />
<line x1="390.31488099447853" y1="525.6" x2="390.31488099447853" y2="527.6" stroke="#222" stroke-width="0.8" />
<line x1="399.2966768876971" y1="525.6" x2="399.2966768876971" y2="527.6" stroke="#222" stroke-width="0.8" />
<line x1="298.125" y1="525.6" x2="298.125" y2="527.6" stroke="#222" stroke-width="0.8" />
<line x1="301.5" y1="525.6" x2="301.5" y2="527.6" stroke="#222" stroke-width="0.8" />
<line x1="304.875" y1="525.6" x2="304.875" y2="527.6" stroke="#222" stroke-width="0.8" />
<line x1="292.15" y1="525.6" x2="292.15" y2="527.6" stroke="#222" stroke-width="0.8" />
<line x1="289.55" y1="525.6" x2="289.55" y2="527.6" stroke="#222" stroke-width="0.8" />
<line x1="286.95" y1="525.6" x2="286.95" y2="527.6" stroke="#222" stroke-width="0.8" />
<line x1="284.35" y1="525.6" x2="284.35" y2="527.6" stroke="#222" stroke-width="0.8" />
<rect x="282.4" y="532.6" width="120.4" height="117.29999999999995" fill="none" stroke="#000" stroke-width="1.3" />
<clipPath id="clipF20"><rect x="283" y="533.2" width="119.2" height="116.09999999999995"/></clipPath>
<g clip-path="url(#clipF20)">
<path d="M283.00,571.40 L283.40,571.40 L283.80,571.40 L284.20,571.40 L284.60,571.40 L285.00,571.40 L285.40,571.40 L285.80,571.40 L286.20,571.40 L286.60,571.40 L287.00,571.40 L287.40,571.40 L287.80,571.40 L288.20,571.40 L288.60,571.40 L289.00,571.40 L289.40,571.40 L289.80,571.40 L290.20,571.40 L290.60,571.40 L291.00,571.40 L291.40,571.40 L291.80,571.40 L292.20,571.40 L292.60,571.40 L293.00,571.40 L293.40,571.40 L293.80,571.40 L294.20,571.40 L294.60,571.40 L295.00,571.40 L295.40,571.40 L295.80,571.40 L296.20,571.40 L296.60,571.40 L297.00,571.40 L297.40,571.40 L297.80,571.40 L298.20,571.40 L298.60,571.40 L299.00,571.40 L299.40,571.40 L299.80,571.40 L300.20,571.40 L300.60,571.40 L301.00,571.40 L301.40,571.40 L301.80,571.40 L302.20,571.40 L302.60,571.40 L303.00,571.40 L303.40,571.40 L303.80,571.40 L304.20,571.40 L304.60,571.40 L305.00,571.40 L305.40,571.40 L305.80,571.40 L306.20,571.40 L306.60,571.40 L307.00,571.40 L307.40,571.40 L307.80,571.40 L308.20,571.40 L308.60,571.40 L309.00,571.40 L309.40,571.40 L309.80,571.40 L310.20,571.40 L310.60,571.40 L311.00,571.40 L311.40,571.40 L311.80,571.40 L312.20,571.40 L312.60,571.40 L313.00,571.40 L313.40,571.40 L313.80,571.40 L314.20,571.40 L314.60,571.40 L315.00,571.40 L315.40,571.40 L315.80,571.40 L316.20,571.40 L316.60,571.40 L317.00,571.40 L317.40,571.40 L317.80,571.40 L318.20,571.40 L318.60,571.40 L319.00,571.40 L319.40,571.40 L319.80,571.40 L320.20,571.39 L320.60,571.38 L321.00,571.37 L321.40,571.36 L321.80,571.35 L322.20,571.34 L322.60,571.32 L323.00,571.31 L323.40,571.30 L323.80,571.29 L324.20,571.28 L324.60,571.26 L325.00,571.25 L325.40,571.24 L325.80,571.23 L326.20,571.22 L326.60,571.21 L327.00,571.19 L327.40,571.18 L327.80,571.17 L328.20,571.16 L328.60,571.15 L329.00,571.14 L329.40,571.12 L329.80,571.09 L330.20,571.01 L330.60,570.84 L331.00,570.63 L331.40,570.40 L331.80,570.16 L332.20,569.93 L332.60,569.69 L333.00,569.46 L333.40,569.22 L333.80,568.99 L334.20,568.76 L334.60,568.52 L335.00,568.28 L335.40,568.02 L335.80,567.67 L336.20,567.15 L336.60,566.47 L337.00,565.70 L337.40,564.90 L337.80,564.10 L338.20,563.30 L338.60,562.49 L339.00,561.65 L339.40,560.64 L339.80,559.34 L340.20,557.74 L340.60,555.98 L341.00,554.18 L341.40,552.37 L341.80,550.58 L342.20,548.84 L342.60,547.24 L343.00,545.80 L343.40,544.46 L343.80,543.15 L344.20,541.87 L344.60,540.68 L345.00,539.62 L345.40,538.70 L345.80,537.87 L346.20,537.24 L346.60,536.96 L347.00,537.04 L347.40,537.30 L347.80,537.65 L348.20,538.14 L348.60,538.83 L349.00,539.71 L349.40,540.75 L349.80,542.07 L350.20,543.79 L350.60,545.77 L351.00,547.79 L351.40,549.75 L351.80,551.64 L352.20,553.49 L352.60,555.32 L353.00,557.11 L353.40,558.78 L353.80,560.26 L354.20,561.61 L354.60,562.93 L355.00,564.24 L355.40,565.54 L355.80,566.78 L356.20,567.82 L356.60,568.52 L357.00,568.94 L357.40,569.24 L357.80,569.51 L358.20,569.78 L358.60,570.05 L359.00,570.32 L359.40,570.59 L359.80,570.86 L360.20,571.10 L360.60,571.29 L361.00,571.37 L361.40,571.40 L361.80,571.40 L362.20,571.40 L362.60,571.40 L363.00,571.40 L363.40,571.40 L363.80,571.40 L364.20,571.40 L364.60,571.40 L365.00,571.40 L365.40,571.40 L365.80,571.40 L366.20,571.40 L366.60,571.40 L367.00,571.40 L367.40,571.40 L367.80,571.40 L368.20,571.40 L368.60,571.40 L369.00,571.40 L369.40,571.40 L369.80,571.40 L370.20,571.40 L370.60,571.40 L371.00,571.40 L371.40,571.40 L371.80,571.40 L372.20,571.40 L372.60,571.40 L373.00,571.40 L373.40,571.40 L373.80,571.40 L374.20,571.40 L374.60,571.40 L375.00,571.40 L375.40,571.40 L375.80,571.40 L376.20,571.40 L376.60,571.40 L377.00,571.40 L377.40,571.40 L377.80,571.40 L378.20,571.40 L378.60,571.40 L379.00,571.40 L379.40,571.40 L379.80,571.40 L380.20,571.40 L380.60,571.40 L381.00,571.40 L381.40,571.40 L381.80,571.40 L382.20,571.40 L382.60,571.40 L383.00,571.40 L383.40,571.40 L383.80,571.40 L384.20,571.40 L384.60,571.40 L385.00,571.40 L385.40,571.40 L385.80,571.40 L386.20,571.40 L386.60,571.40 L387.00,571.40 L387.40,571.40 L387.80,571.40 L388.20,571.40 L388.60,571.40 L389.00,571.40 L389.40,571.40 L389.80,571.40 L390.20,571.40 L390.60,571.40 L391.00,571.40 L391.40,571.40 L391.80,571.40 L392.20,571.40 L392.60,571.40 L393.00,571.40 L393.40,571.40 L393.80,571.40 L394.20,571.40 L394.60,571.40 L395.00,571.40 L395.40,571.40 L395.80,571.40 L396.20,571.40 L396.60,571.40 L397.00,571.40 L397.40,571.40 L397.80,571.40 L398.20,571.40 L398.60,571.40 L399.00,571.40 L399.40,571.40 L399.80,571.40 L400.20,571.40 L400.60,571.40 L401.00,571.40 L401.40,571.40 L401.80,571.40 L402.20,571.40 L402.60,571.40" stroke="#c0254a" stroke-width="1.1" fill="none" stroke-linejoin="round" />
<path d="M283.00,597.50 L283.40,597.50 L283.80,597.50 L284.20,597.50 L284.60,597.50 L285.00,597.50 L285.40,597.50 L285.80,597.50 L286.20,597.50 L286.60,597.50 L287.00,597.50 L287.40,597.50 L287.80,597.50 L288.20,597.50 L288.60,597.50 L289.00,597.50 L289.40,597.50 L289.80,597.50 L290.20,597.50 L290.60,597.50 L291.00,597.50 L291.40,597.50 L291.80,597.50 L292.20,597.50 L292.60,597.50 L293.00,597.50 L293.40,597.50 L293.80,597.50 L294.20,597.50 L294.60,597.50 L295.00,597.50 L295.40,597.50 L295.80,597.50 L296.20,597.50 L296.60,597.50 L297.00,597.50 L297.40,597.50 L297.80,597.50 L298.20,597.50 L298.60,597.50 L299.00,597.50 L299.40,597.50 L299.80,597.50 L300.20,597.50 L300.60,597.50 L301.00,597.50 L301.40,597.50 L301.80,597.50 L302.20,597.50 L302.60,597.50 L303.00,597.50 L303.40,597.50 L303.80,597.50 L304.20,597.50 L304.60,597.50 L305.00,597.50 L305.40,597.50 L305.80,597.50 L306.20,597.50 L306.60,597.50 L307.00,597.50 L307.40,597.50 L307.80,597.50 L308.20,597.50 L308.60,597.50 L309.00,597.50 L309.40,597.50 L309.80,597.50 L310.20,597.50 L310.60,597.50 L311.00,597.50 L311.40,597.50 L311.80,597.50 L312.20,597.50 L312.60,597.50 L313.00,597.50 L313.40,597.50 L313.80,597.50 L314.20,597.50 L314.60,597.50 L315.00,597.50 L315.40,597.50 L315.80,597.50 L316.20,597.50 L316.60,597.50 L317.00,597.50 L317.40,597.50 L317.80,597.50 L318.20,597.50 L318.60,597.50 L319.00,597.50 L319.40,597.50 L319.80,597.49 L320.20,597.48 L320.60,597.46 L321.00,597.44 L321.40,597.42 L321.80,597.39 L322.20,597.37 L322.60,597.34 L323.00,597.32 L323.40,597.29 L323.80,597.27 L324.20,597.25 L324.60,597.22 L325.00,597.20 L325.40,597.17 L325.80,597.15 L326.20,597.13 L326.60,597.10 L327.00,597.08 L327.40,597.05 L327.80,597.03 L328.20,597.01 L328.60,596.98 L329.00,596.96 L329.40,596.93 L329.80,596.91 L330.20,596.88 L330.60,596.86 L331.00,596.82 L331.40,596.73 L331.80,596.55 L332.20,596.27 L332.60,595.94 L333.00,595.59 L333.40,595.25 L333.80,594.90 L334.20,594.56 L334.60,594.21 L335.00,593.87 L335.40,593.52 L335.80,593.17 L336.20,592.77 L336.60,592.22 L337.00,591.41 L337.40,590.39 L337.80,589.28 L338.20,588.15 L338.60,587.02 L339.00,585.88 L339.40,584.75 L339.80,583.60 L340.20,582.40 L340.60,581.11 L341.00,579.75 L341.40,578.37 L341.80,576.98 L342.20,575.59 L342.60,574.21 L343.00,572.91 L343.40,571.72 L343.80,570.65 L344.20,569.58 L344.60,568.42 L345.00,567.14 L345.40,565.82 L345.80,564.61 L346.20,563.67 L346.60,563.08 L347.00,562.75 L347.40,562.63 L347.80,562.84 L348.20,563.37 L348.60,564.09 L349.00,564.90 L349.40,565.82 L349.80,566.84 L350.20,568.08 L350.60,569.80 L351.00,571.98 L351.40,574.26 L351.80,576.37 L352.20,578.37 L352.60,580.36 L353.00,582.39 L353.40,584.44 L353.80,586.44 L354.20,588.30 L354.60,589.99 L355.00,591.51 L355.40,592.83 L355.80,593.81 L356.20,594.44 L356.60,594.89 L357.00,595.30 L357.40,595.70 L357.80,596.10 L358.20,596.50 L358.60,596.88 L359.00,597.20 L359.40,597.40 L359.80,597.48 L360.20,597.50 L360.60,597.50 L361.00,597.50 L361.40,597.50 L361.80,597.50 L362.20,597.50 L362.60,597.50 L363.00,597.50 L363.40,597.50 L363.80,597.50 L364.20,597.50 L364.60,597.50 L365.00,597.50 L365.40,597.50 L365.80,597.50 L366.20,597.50 L366.60,597.50 L367.00,597.50 L367.40,597.50 L367.80,597.50 L368.20,597.50 L368.60,597.50 L369.00,597.50 L369.40,597.50 L369.80,597.50 L370.20,597.50 L370.60,597.50 L371.00,597.50 L371.40,597.50 L371.80,597.50 L372.20,597.50 L372.60,597.50 L373.00,597.50 L373.40,597.50 L373.80,597.50 L374.20,597.50 L374.60,597.50 L375.00,597.50 L375.40,597.50 L375.80,597.50 L376.20,597.50 L376.60,597.50 L377.00,597.50 L377.40,597.50 L377.80,597.50 L378.20,597.50 L378.60,597.50 L379.00,597.50 L379.40,597.50 L379.80,597.50 L380.20,597.50 L380.60,597.50 L381.00,597.50 L381.40,597.50 L381.80,597.50 L382.20,597.50 L382.60,597.50 L383.00,597.50 L383.40,597.50 L383.80,597.50 L384.20,597.50 L384.60,597.50 L385.00,597.50 L385.40,597.50 L385.80,597.50 L386.20,597.50 L386.60,597.50 L387.00,597.50 L387.40,597.50 L387.80,597.50 L388.20,597.50 L388.60,597.50 L389.00,597.50 L389.40,597.50 L389.80,597.50 L390.20,597.50 L390.60,597.50 L391.00,597.50 L391.40,597.50 L391.80,597.50 L392.20,597.50 L392.60,597.50 L393.00,597.50 L393.40,597.50 L393.80,597.50 L394.20,597.50 L394.60,597.50 L395.00,597.50 L395.40,597.50 L395.80,597.50 L396.20,597.50 L396.60,597.50 L397.00,597.50 L397.40,597.50 L397.80,597.50 L398.20,597.50 L398.60,597.50 L399.00,597.50 L399.40,597.50 L399.80,597.50 L400.20,597.50 L400.60,597.50 L401.00,597.50 L401.40,597.50 L401.80,597.50 L402.20,597.50 L402.60,597.50" stroke="#76b856" stroke-width="1.1" fill="none" stroke-linejoin="round" />
<path d="M283.00,624.00 L283.40,624.00 L283.80,624.00 L284.20,624.00 L284.60,624.00 L285.00,624.00 L285.40,624.00 L285.80,624.00 L286.20,624.00 L286.60,624.00 L287.00,624.00 L287.40,624.00 L287.80,624.00 L288.20,624.00 L288.60,624.00 L289.00,624.00 L289.40,624.00 L289.80,624.00 L290.20,624.00 L290.60,624.00 L291.00,624.00 L291.40,624.00 L291.80,624.00 L292.20,624.00 L292.60,624.00 L293.00,624.00 L293.40,624.00 L293.80,624.00 L294.20,624.00 L294.60,624.00 L295.00,624.00 L295.40,624.00 L295.80,624.00 L296.20,624.00 L296.60,624.00 L297.00,624.00 L297.40,624.00 L297.80,624.00 L298.20,624.00 L298.60,624.00 L299.00,624.00 L299.40,624.00 L299.80,624.00 L300.20,624.00 L300.60,624.00 L301.00,624.00 L301.40,624.00 L301.80,624.00 L302.20,624.00 L302.60,624.00 L303.00,624.00 L303.40,624.00 L303.80,624.00 L304.20,624.00 L304.60,624.00 L305.00,624.00 L305.40,624.00 L305.80,624.00 L306.20,624.00 L306.60,624.00 L307.00,624.00 L307.40,624.00 L307.80,624.00 L308.20,624.00 L308.60,624.00 L309.00,624.00 L309.40,624.00 L309.80,624.00 L310.20,624.00 L310.60,624.00 L311.00,624.00 L311.40,624.00 L311.80,624.00 L312.20,624.00 L312.60,624.00 L313.00,624.00 L313.40,624.00 L313.80,624.00 L314.20,624.00 L314.60,624.00 L315.00,624.00 L315.40,624.00 L315.80,624.00 L316.20,624.00 L316.60,624.00 L317.00,624.00 L317.40,624.00 L317.80,624.00 L318.20,624.00 L318.60,624.00 L319.00,624.00 L319.40,624.00 L319.80,623.99 L320.20,623.97 L320.60,623.94 L321.00,623.90 L321.40,623.87 L321.80,623.83 L322.20,623.79 L322.60,623.75 L323.00,623.72 L323.40,623.68 L323.80,623.64 L324.20,623.60 L324.60,623.56 L325.00,623.53 L325.40,623.49 L325.80,623.45 L326.20,623.41 L326.60,623.37 L327.00,623.34 L327.40,623.30 L327.80,623.26 L328.20,623.22 L328.60,623.18 L329.00,623.15 L329.40,623.11 L329.80,623.07 L330.20,623.03 L330.60,622.99 L331.00,622.95 L331.40,622.90 L331.80,622.83 L332.20,622.74 L332.60,622.65 L333.00,622.55 L333.40,622.44 L333.80,622.34 L334.20,622.24 L334.60,622.14 L335.00,622.04 L335.40,621.94 L335.80,621.84 L336.20,621.74 L336.60,621.64 L337.00,621.53 L337.40,621.43 L337.80,621.33 L338.20,621.23 L338.60,621.13 L339.00,621.03 L339.40,620.93 L339.80,620.81 L340.20,620.66 L340.60,620.46 L341.00,620.20 L341.40,619.92 L341.80,619.64 L342.20,619.36 L342.60,619.08 L343.00,618.79 L343.40,618.51 L343.80,618.23 L344.20,617.95 L344.60,617.66 L345.00,617.33 L345.40,616.88 L345.80,616.24 L346.20,615.47 L346.60,614.67 L347.00,613.86 L347.40,613.04 L347.80,612.23 L348.20,611.42 L348.60,610.57 L349.00,609.61 L349.40,608.50 L349.80,607.29 L350.20,606.04 L350.60,604.78 L351.00,603.53 L351.40,602.28 L351.80,601.02 L352.20,599.79 L352.60,598.60 L353.00,597.50 L353.40,596.47 L353.80,595.47 L354.20,594.48 L354.60,593.49 L355.00,592.52 L355.40,591.66 L355.80,590.98 L356.20,590.48 L356.60,590.09 L357.00,589.72 L357.40,589.39 L357.80,589.20 L358.20,589.24 L358.60,589.54 L359.00,589.96 L359.40,590.43 L359.80,590.93 L360.20,591.48 L360.60,592.07 L361.00,592.69 L361.40,593.39 L361.80,594.35 L362.20,595.70 L362.60,597.30 L363.00,598.96 L363.40,600.58 L363.80,602.10 L364.20,603.55 L364.60,604.97 L365.00,606.38 L365.40,607.78 L365.80,609.18 L366.20,610.57 L366.60,611.92 L367.00,613.24 L367.40,614.54 L367.80,615.84 L368.20,617.13 L368.60,618.40 L369.00,619.58 L369.40,620.53 L369.80,621.21 L370.20,621.72 L370.60,622.18 L371.00,622.63 L371.40,623.08 L371.80,623.50 L372.20,623.81 L372.60,623.96 L373.00,623.99 L373.40,624.00 L373.80,624.00 L374.20,624.00 L374.60,624.00 L375.00,624.00 L375.40,624.00 L375.80,624.00 L376.20,624.00 L376.60,624.00 L377.00,624.00 L377.40,624.00 L377.80,624.00 L378.20,624.00 L378.60,624.00 L379.00,624.00 L379.40,624.00 L379.80,624.00 L380.20,624.00 L380.60,624.00 L381.00,624.00 L381.40,624.00 L381.80,624.00 L382.20,624.00 L382.60,624.00 L383.00,624.00 L383.40,624.00 L383.80,624.00 L384.20,624.00 L384.60,624.00 L385.00,624.00 L385.40,624.00 L385.80,624.00 L386.20,624.00 L386.60,624.00 L387.00,624.00 L387.40,624.00 L387.80,624.00 L388.20,624.00 L388.60,624.00 L389.00,624.00 L389.40,624.00 L389.80,624.00 L390.20,624.00 L390.60,624.00 L391.00,624.00 L391.40,624.00 L391.80,624.00 L392.20,624.00 L392.60,624.00 L393.00,624.00 L393.40,624.00 L393.80,624.00 L394.20,624.00 L394.60,624.00 L395.00,624.00 L395.40,624.00 L395.80,624.00 L396.20,624.00 L396.60,624.00 L397.00,624.00 L397.40,624.00 L397.80,624.00 L398.20,624.00 L398.60,624.00 L399.00,624.00 L399.40,624.00 L399.80,624.00 L400.20,624.00 L400.60,624.00 L401.00,624.00 L401.40,624.00 L401.80,624.00 L402.20,624.00 L402.60,624.00" stroke="#405d9a" stroke-width="1.1" fill="none" stroke-linejoin="round" />
<path d="M300.00,649.89 L300.50,649.88 L301.00,649.88 L301.50,649.86 L302.00,649.84 L302.50,649.81 L303.00,649.77 L303.50,649.70 L304.00,649.61 L304.50,649.48 L305.00,649.31 L305.50,649.08 L306.00,648.77 L306.50,648.37 L307.00,647.86 L307.50,647.20 L308.00,646.40 L308.50,645.41 L309.00,644.23 L309.50,642.83 L310.00,641.22 L310.50,639.39 L311.00,637.36 L311.50,635.14 L312.00,632.77 L312.50,630.30 L313.00,627.79 L313.50,625.31 L314.00,622.94 L314.50,620.75 L315.00,618.83 L315.50,617.25 L316.00,616.07 L316.50,615.35 L317.00,615.10 L317.50,615.35 L318.00,616.07 L318.50,617.25 L319.00,618.83 L319.50,620.75 L320.00,622.94 L320.50,625.31 L321.00,627.79 L321.50,630.30 L322.00,632.77 L322.50,635.14 L323.00,637.36 L323.50,639.39 L324.00,641.22 L324.50,642.83 L325.00,644.23 L325.50,645.41 L326.00,646.40 L326.50,647.20 L327.00,647.86 L327.50,648.37 L328.00,648.77 L328.50,649.08 L329.00,649.31 L329.50,649.48 L330.00,649.61 L330.50,649.70 L331.00,649.77 L331.50,649.81 L332.00,649.84 L332.50,649.86 L333.00,649.88 L333.50,649.88 L334.00,649.89" stroke="#cfcfcf" stroke-width="1.0" fill="none" stroke-linejoin="round" />
</g>
<line x1="294.75" y1="649.9" x2="294.75" y2="652.9" stroke="#111" stroke-width="1.0" />
<line x1="308.25" y1="649.9" x2="308.25" y2="652.9" stroke="#111" stroke-width="1.0" />
<line x1="336.6" y1="649.9" x2="336.6" y2="652.9" stroke="#111" stroke-width="1.0" />
<line x1="365.6" y1="649.9" x2="365.6" y2="652.9" stroke="#111" stroke-width="1.0" />
<line x1="391.5" y1="649.9" x2="391.5" y2="652.9" stroke="#111" stroke-width="1.0" />
<line x1="316.7842003770739" y1="649.9" x2="316.7842003770739" y2="651.9" stroke="#222" stroke-width="0.8" />
<line x1="321.77638757130245" y1="649.9" x2="321.77638757130245" y2="651.9" stroke="#222" stroke-width="0.8" />
<line x1="325.3184007541478" y1="649.9" x2="325.3184007541478" y2="651.9" stroke="#222" stroke-width="0.8" />
<line x1="328.06579962292614" y1="649.9" x2="328.06579962292614" y2="651.9" stroke="#222" stroke-width="0.8" />
<line x1="330.31058794837634" y1="649.9" x2="330.31058794837634" y2="651.9" stroke="#222" stroke-width="0.8" />
<line x1="332.2085294344042" y1="649.9" x2="332.2085294344042" y2="651.9" stroke="#222" stroke-width="0.8" />
<line x1="333.8526011312216" y1="649.9" x2="333.8526011312216" y2="651.9" stroke="#222" stroke-width="0.8" />
<line x1="335.3027751426049" y1="649.9" x2="335.3027751426049" y2="651.9" stroke="#222" stroke-width="0.8" />
<line x1="345.32986987425545" y1="649.9" x2="345.32986987425545" y2="651.9" stroke="#222" stroke-width="0.8" />
<line x1="350.4365163868702" y1="649.9" x2="350.4365163868702" y2="651.9" stroke="#222" stroke-width="0.8" />
<line x1="354.05973974851094" y1="649.9" x2="354.05973974851094" y2="651.9" stroke="#222" stroke-width="0.8" />
<line x1="356.8701301257446" y1="649.9" x2="356.8701301257446" y2="651.9" stroke="#222" stroke-width="0.8" />
<line x1="359.1663862611257" y1="649.9" x2="359.1663862611257" y2="651.9" stroke="#222" stroke-width="0.8" />
<line x1="361.1078431604135" y1="649.9" x2="361.1078431604135" y2="651.9" stroke="#222" stroke-width="0.8" />
<line x1="362.78960962276636" y1="649.9" x2="362.78960962276636" y2="651.9" stroke="#222" stroke-width="0.8" />
<line x1="364.27303277374045" y1="649.9" x2="364.27303277374045" y2="651.9" stroke="#222" stroke-width="0.8" />
<line x1="373.39667688769714" y1="649.9" x2="373.39667688769714" y2="651.9" stroke="#222" stroke-width="0.8" />
<line x1="377.95744049723925" y1="649.9" x2="377.95744049723925" y2="651.9" stroke="#222" stroke-width="0.8" />
<line x1="381.19335377539426" y1="649.9" x2="381.19335377539426" y2="651.9" stroke="#222" stroke-width="0.8" />
<line x1="383.7033231123029" y1="649.9" x2="383.7033231123029" y2="651.9" stroke="#222" stroke-width="0.8" />
<line x1="385.75411738493636" y1="649.9" x2="385.75411738493636" y2="651.9" stroke="#222" stroke-width="0.8" />
<line x1="387.4880392363693" y1="649.9" x2="387.4880392363693" y2="651.9" stroke="#222" stroke-width="0.8" />
<line x1="388.9900306630913" y1="649.9" x2="388.9900306630913" y2="651.9" stroke="#222" stroke-width="0.8" />
<line x1="390.31488099447853" y1="649.9" x2="390.31488099447853" y2="651.9" stroke="#222" stroke-width="0.8" />
<line x1="399.2966768876971" y1="649.9" x2="399.2966768876971" y2="651.9" stroke="#222" stroke-width="0.8" />
<line x1="298.125" y1="649.9" x2="298.125" y2="651.9" stroke="#222" stroke-width="0.8" />
<line x1="301.5" y1="649.9" x2="301.5" y2="651.9" stroke="#222" stroke-width="0.8" />
<line x1="304.875" y1="649.9" x2="304.875" y2="651.9" stroke="#222" stroke-width="0.8" />
<line x1="292.15" y1="649.9" x2="292.15" y2="651.9" stroke="#222" stroke-width="0.8" />
<line x1="289.55" y1="649.9" x2="289.55" y2="651.9" stroke="#222" stroke-width="0.8" />
<line x1="286.95" y1="649.9" x2="286.95" y2="651.9" stroke="#222" stroke-width="0.8" />
<line x1="284.35" y1="649.9" x2="284.35" y2="651.9" stroke="#222" stroke-width="0.8" />
<text x="295.25" y="663.8" font-size="8.6" text-anchor="middle" fill="#231f20" textLength="4.6" lengthAdjust="spacingAndGlyphs" >0</text>
<text x="308.4" y="663.8" font-size="8.6" text-anchor="middle" fill="#231f20" textLength="12.2" lengthAdjust="spacingAndGlyphs" >10<tspan dy="-3.4" font-size="6.2">2</tspan></text>
<text x="337.5" y="663.8" font-size="8.6" text-anchor="middle" fill="#231f20" textLength="12.2" lengthAdjust="spacingAndGlyphs" >10<tspan dy="-3.4" font-size="6.2">3</tspan></text>
<text x="366" y="663.8" font-size="8.6" text-anchor="middle" fill="#231f20" textLength="12.2" lengthAdjust="spacingAndGlyphs" >10<tspan dy="-3.4" font-size="6.2">4</tspan></text>
<text x="392.2" y="663.8" font-size="8.6" text-anchor="middle" fill="#231f20" textLength="12.2" lengthAdjust="spacingAndGlyphs" >10<tspan dy="-3.4" font-size="6.2">5</tspan></text>
<line x1="272.7" y1="411" x2="272.7" y2="667.5" stroke="#222" stroke-width="1.4" />
<path d="M272.7,408.3 L275.4,414.1 L272.7,412.8 L270.0,414.1 Z" stroke="#000" stroke-width="0.4" fill="#000" stroke-linejoin="round" />
<line x1="272.0" y1="667" x2="399" y2="667" stroke="#222" stroke-width="1.4" />
<path d="M402.6,667 L396.8,669.7 L398.1,667 L396.8,664.3 Z" stroke="#000" stroke-width="0.4" fill="#000" stroke-linejoin="round" />
<text x="338.1" y="678.9" font-size="10.8" text-anchor="middle" fill="#231f20" textLength="24.8" lengthAdjust="spacingAndGlyphs" >IFITM3</text>
<text transform="translate(267.3,537.3) rotate(-90)" font-size="10.2" text-anchor="middle" fill="#231f20" textLength="95.5" lengthAdjust="spacingAndGlyphs">Count normalized to mode</text>
<text x="443.4" y="429.29999999999995" font-size="6.8" text-anchor="middle" fill="#231f20" >Donor 1</text>
<line x1="431" y1="429.69999999999993" x2="456" y2="429.69999999999993" stroke="#555" stroke-width="0.55" />
<text x="443.3" y="437.4" font-size="6.8" text-anchor="middle" fill="#231f20" textLength="45" lengthAdjust="spacingAndGlyphs" >Sample Name:</text>
<line x1="420.8" y1="437.79999999999995" x2="465.8" y2="437.79999999999995" stroke="#555" stroke-width="0.55" />
<text x="492.4" y="425.4" font-size="6.8" text-anchor="middle" fill="#231f20" >Median</text>
<line x1="480" y1="425.79999999999995" x2="505" y2="425.79999999999995" stroke="#555" stroke-width="0.55" />
<text x="492.4" y="433.9" font-size="6.8" text-anchor="middle" fill="#231f20" textLength="40.4" lengthAdjust="spacingAndGlyphs" >Fluorescence</text>
<line x1="472.2" y1="434.29999999999995" x2="512.6" y2="434.29999999999995" stroke="#555" stroke-width="0.55" />
<text x="492.4" y="442.0" font-size="6.8" text-anchor="middle" fill="#231f20" >Intensity</text>
<line x1="479" y1="442.4" x2="506" y2="442.4" stroke="#555" stroke-width="0.55" />
<rect x="409.4" y="451.8" width="7.8" height="7.8" fill="none" stroke="#405d9a" stroke-width="1.1" rx="0.8"/>
<text x="423.5" y="454.3" font-size="6" text-anchor="start" fill="#231f20" >DMSO mPB</text>
<text x="423.5" y="461.2" font-size="6" text-anchor="start" fill="#231f20" >CD34<tspan dy="-2.2" font-size="4">+</tspan><tspan dy="2.2"> Cells</tspan></text>
<text x="492.3" y="457.8" font-size="6" text-anchor="middle" fill="#231f20" >4100</text>
<rect x="409.4" y="471.40000000000003" width="7.8" height="7.8" fill="none" stroke="#76b856" stroke-width="1.1" rx="0.8"/>
<text x="423.5" y="473.90000000000003" font-size="6" text-anchor="start" fill="#231f20" >Cara mPB</text>
<text x="423.5" y="480.8" font-size="6" text-anchor="start" fill="#231f20" >CD34<tspan dy="-2.2" font-size="4">+</tspan><tspan dy="2.2"> Cells</tspan></text>
<text x="492.3" y="477.40000000000003" font-size="6" text-anchor="middle" fill="#231f20" >1711</text>
<rect x="409.4" y="491.0" width="7.8" height="7.8" fill="none" stroke="#c0254a" stroke-width="1.1" rx="0.8"/>
<text x="423.5" y="493.5" font-size="6" text-anchor="start" fill="#231f20" >Rapa mPB</text>
<text x="423.5" y="500.4" font-size="6" text-anchor="start" fill="#231f20" >CD34<tspan dy="-2.2" font-size="4">+</tspan><tspan dy="2.2"> Cells</tspan></text>
<text x="492.3" y="497.0" font-size="6" text-anchor="middle" fill="#231f20" >1853</text>
<rect x="409.4" y="507.0" width="7.8" height="7.8" fill="none" stroke="#d8d8d8" stroke-width="1.1" rx="0.8"/>
<text x="423.5" y="512.9" font-size="6" text-anchor="start" fill="#231f20" >Isotype Control</text>
<text x="492.3" y="513.0" font-size="6" text-anchor="middle" fill="#231f20" >224</text>
<text x="443.4" y="553.9" font-size="6.8" text-anchor="middle" fill="#231f20" >Donor 2</text>
<line x1="431" y1="554.3" x2="456" y2="554.3" stroke="#555" stroke-width="0.55" />
<text x="443.3" y="562.0" font-size="6.8" text-anchor="middle" fill="#231f20" textLength="45" lengthAdjust="spacingAndGlyphs" >Sample Name:</text>
<line x1="420.8" y1="562.4" x2="465.8" y2="562.4" stroke="#555" stroke-width="0.55" />
<text x="492.4" y="550.0" font-size="6.8" text-anchor="middle" fill="#231f20" >Median</text>
<line x1="480" y1="550.4" x2="505" y2="550.4" stroke="#555" stroke-width="0.55" />
<text x="492.4" y="558.1" font-size="6.8" text-anchor="middle" fill="#231f20" textLength="40.4" lengthAdjust="spacingAndGlyphs" >Fluorescence</text>
<line x1="472.2" y1="558.5" x2="512.6" y2="558.5" stroke="#555" stroke-width="0.55" />
<text x="492.4" y="566.6" font-size="6.8" text-anchor="middle" fill="#231f20" >Intensity</text>
<line x1="479" y1="567.0" x2="506" y2="567.0" stroke="#555" stroke-width="0.55" />
<rect x="409.4" y="575.7" width="7.8" height="7.8" fill="none" stroke="#405d9a" stroke-width="1.1" rx="0.8"/>
<text x="423.5" y="578.2" font-size="6" text-anchor="start" fill="#231f20" >DMSO mPB</text>
<text x="423.5" y="585.1" font-size="6" text-anchor="start" fill="#231f20" >CD34<tspan dy="-2.2" font-size="4">+</tspan><tspan dy="2.2"> Cells</tspan></text>
<text x="492.3" y="581.7" font-size="6" text-anchor="middle" fill="#231f20" >5241</text>
<rect x="409.4" y="594.6" width="7.8" height="7.8" fill="none" stroke="#76b856" stroke-width="1.1" rx="0.8"/>
<text x="423.5" y="597.1" font-size="6" text-anchor="start" fill="#231f20" >Cara mPB</text>
<text x="423.5" y="604.0" font-size="6" text-anchor="start" fill="#231f20" >CD34<tspan dy="-2.2" font-size="4">+</tspan><tspan dy="2.2"> Cells</tspan></text>
<text x="492.3" y="600.6" font-size="6" text-anchor="middle" fill="#231f20" >2284</text>
<rect x="409.4" y="613.1" width="7.8" height="7.8" fill="none" stroke="#c0254a" stroke-width="1.1" rx="0.8"/>
<text x="423.5" y="615.6" font-size="6" text-anchor="start" fill="#231f20" >Rapa mPB</text>
<text x="423.5" y="622.5" font-size="6" text-anchor="start" fill="#231f20" >CD34<tspan dy="-2.2" font-size="4">+</tspan><tspan dy="2.2"> Cells</tspan></text>
<text x="492.3" y="619.1" font-size="6" text-anchor="middle" fill="#231f20" >2144</text>
<rect x="409.4" y="631.6" width="7.8" height="7.8" fill="none" stroke="#d8d8d8" stroke-width="1.1" rx="0.8"/>
<text x="423.5" y="637.5" font-size="6" text-anchor="start" fill="#231f20" >Isotype Control</text>
<text x="492.3" y="637.6" font-size="6" text-anchor="middle" fill="#231f20" >224</text>
</svg></body></html>
